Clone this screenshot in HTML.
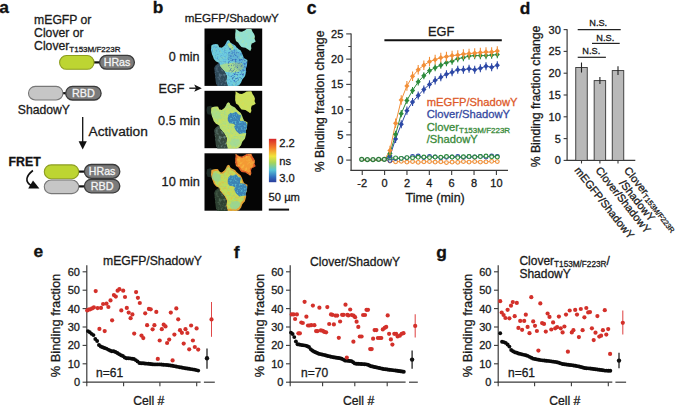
<!DOCTYPE html>
<html><head><meta charset="utf-8"><style>
html,body{margin:0;padding:0;background:#fff;overflow:hidden}
svg{display:block}
text{font-family:"Liberation Sans",sans-serif}
</style></head><body>
<svg width="675" height="405" viewBox="0 0 675 405">
<rect width="675" height="405" fill="#fff"/>
<text x="-0.80" y="13.40" font-size="17.4" text-anchor="start" fill="#111" stroke="#111" stroke-width="0.3" font-weight="bold" >a</text>
<text x="34.10" y="24.30" font-size="12.2" text-anchor="start" fill="#1a1a1a" stroke="#1a1a1a" stroke-width="0.3" >mEGFP or</text>
<text x="34.10" y="37.30" font-size="12.2" text-anchor="start" fill="#1a1a1a" stroke="#1a1a1a" stroke-width="0.3" >Clover or</text>
<text x="34.10" y="50.30" font-size="12.2" text-anchor="start" fill="#1a1a1a" stroke="#1a1a1a" stroke-width="0.3" >Clover<tspan font-size="8" dy="1.4">T153M/F223R</tspan></text>
<line x1="93.50" y1="62.40" x2="100.00" y2="62.40" stroke="#111" stroke-width="2.2"/>
<rect x="59.60" y="55.50" width="34.40" height="13.80" rx="6.90" fill="#bdd532" stroke="#8c9d1e" stroke-width="1.1"/>
<rect x="99.60" y="55.40" width="34.80" height="13.80" rx="6.90" fill="#7b7b7b" stroke="#3a3a3a" stroke-width="1.3"/>
<text x="117.00" y="65.90" font-size="10.6" text-anchor="middle" fill="#f4f4f4" stroke="#f4f4f4" stroke-width="0.3" >HRas</text>
<line x1="62.50" y1="93.20" x2="66.50" y2="93.20" stroke="#111" stroke-width="2.2"/>
<rect x="28.50" y="86.40" width="34.40" height="13.60" rx="6.80" fill="#c6c6c6" stroke="#777" stroke-width="1.1"/>
<rect x="65.70" y="86.40" width="35.40" height="13.60" rx="6.80" fill="#7b7b7b" stroke="#3a3a3a" stroke-width="1.3"/>
<text x="83.40" y="96.80" font-size="10.8" text-anchor="middle" fill="#f4f4f4" stroke="#f4f4f4" stroke-width="0.3" >RBD</text>
<text x="17.80" y="113.90" font-size="12.2" text-anchor="start" fill="#1a1a1a" stroke="#1a1a1a" stroke-width="0.3" >ShadowY</text>
<line x1="82.70" y1="117.00" x2="82.70" y2="143.00" stroke="#111" stroke-width="1.3"/>
<polygon points="78.6,141.2 86.8,141.2 82.7,149.6" fill="#111"/>
<text x="88.50" y="136.40" font-size="13.7" text-anchor="start" fill="#1a1a1a" stroke="#1a1a1a" stroke-width="0.3" >Activation</text>
<text x="8.60" y="165.60" font-size="12.3" text-anchor="start" fill="#111" stroke="#111" stroke-width="0.3" font-weight="bold" >FRET</text>
<path d="M32.9,170.5 C26.5,175.5 24.0,181.5 31.5,185.8" fill="none" stroke="#111" stroke-width="1.6"/>
<polygon points="33.0,180.4 39.4,188.6 28.2,188.6" fill="#111"/>
<line x1="78.50" y1="171.60" x2="84.50" y2="171.60" stroke="#111" stroke-width="2.2"/>
<line x1="78.50" y1="186.40" x2="84.50" y2="186.40" stroke="#111" stroke-width="2.2"/>
<rect x="44.30" y="164.90" width="34.40" height="13.80" rx="6.90" fill="#bdd532" stroke="#8c9d1e" stroke-width="1.1"/>
<rect x="84.40" y="164.50" width="35.40" height="13.80" rx="6.90" fill="#7b7b7b" stroke="#3a3a3a" stroke-width="1.3"/>
<text x="102.10" y="175.20" font-size="10.6" text-anchor="middle" fill="#f4f4f4" stroke="#f4f4f4" stroke-width="0.3" >HRas</text>
<rect x="44.30" y="180.00" width="34.40" height="13.60" rx="6.80" fill="#c6c6c6" stroke="#777" stroke-width="1.1"/>
<rect x="84.40" y="179.40" width="35.40" height="13.40" rx="6.70" fill="#7b7b7b" stroke="#3a3a3a" stroke-width="1.3"/>
<text x="102.10" y="190.00" font-size="10.8" text-anchor="middle" fill="#f4f4f4" stroke="#f4f4f4" stroke-width="0.3" >RBD</text>
<text x="152.80" y="12.90" font-size="17.3" text-anchor="start" fill="#111" stroke="#111" stroke-width="0.3" font-weight="bold" >b</text>
<text x="184.70" y="22.40" font-size="11.6" text-anchor="start" fill="#1a1a1a" stroke="#1a1a1a" stroke-width="0.3" >mEGFP/ShadowY</text>
<text x="199.60" y="61.00" font-size="12.6" text-anchor="end" fill="#1a1a1a" stroke="#1a1a1a" stroke-width="0.3" >0 min</text>
<text x="158.60" y="92.50" font-size="12.6" text-anchor="start" fill="#1a1a1a" stroke="#1a1a1a" stroke-width="0.3" >EGF</text>
<line x1="189.30" y1="88.20" x2="199.50" y2="88.20" stroke="#111" stroke-width="1.3"/>
<polygon points="194.2,84.6 201.8,88.2 194.2,91.8 196.0,88.2" fill="#111"/>
<text x="200.00" y="125.10" font-size="12.8" text-anchor="end" fill="#1a1a1a" stroke="#1a1a1a" stroke-width="0.3" >0.5 min</text>
<text x="200.00" y="186.00" font-size="12.8" text-anchor="end" fill="#1a1a1a" stroke="#1a1a1a" stroke-width="0.3" >10 min</text>
<defs>
<filter id="nz1" x="0" y="0" width="100%" height="100%"><feTurbulence type="fractalNoise" baseFrequency="0.55" numOctaves="2" seed="7" result="n"/><feColorMatrix in="n" type="matrix" values="0 0 0 0 0  0 0 0 0 0  0 0 0 0 0  0 0 0 -3.0 1.55" result="a"/><feComposite in="SourceGraphic" in2="a" operator="in"/></filter>
<filter id="nz2" x="0" y="0" width="100%" height="100%"><feTurbulence type="fractalNoise" baseFrequency="0.35" numOctaves="2" seed="19" result="n"/><feColorMatrix in="n" type="matrix" values="0 0 0 0 0  0 0 0 0 0  0 0 0 0 0  0 0 0 3.4 -1.6" result="a"/><feComposite in="SourceGraphic" in2="a" operator="in"/></filter>
<filter id="blr"><feGaussianBlur stdDeviation="0.45"/></filter>
<clipPath id="urc"><polygon points="31.1,0.4 33.0,1.6 35.0,3.0 37.4,3.2 40.1,2.0 42.1,0.6 46.9,0.4 48.0,3.2 49.6,5.5 50.4,7.9 50.0,10.3 51.2,13.0 49.2,14.2 47.2,15.0 46.5,17.4 46.9,20.1 45.7,22.5 43.7,20.9 40.9,19.3 39.0,18.9 37.0,18.6 35.0,16.2 33.8,14.2 31.5,12.6 30.7,9.5 30.7,5.5 31.1,2.4"/></clipPath>
<clipPath id="mainc"><polygon points="6.9,17.0 8.4,16.1 11.4,15.6 13.6,15.9 14.7,18.8 17.3,19.2 19.9,17.3 21.7,14.4 22.5,12.5 23.9,11.4 25.1,12.2 25.8,14.0 27.3,15.1 29.5,16.2 30.7,17.0 32.2,19.0 34.6,20.9 36.2,22.1 37.4,24.5 38.6,27.6 39.3,29.6 42.9,31.5 42.5,36.7 41.3,40.2 41.7,43.0 40.5,47.7 37.8,50.9 36.6,54.1 34.6,56.8 32.2,57.6 23.2,57.6 21.6,52.5 22.4,47.7 20.0,43.0 15.3,37.5 14.6,34.6 11.3,32.7 9.4,30.4 8.2,27.2 7.6,25.9 6.5,21.4"/></clipPath>
<clipPath id="darkc"><polygon points="10.6,37.5 14.4,34.2 15.3,37.5 20.0,43.0 22.4,47.7 21.6,52.5 23.2,57.6 12.9,57.6 11.3,54.1 10.6,46.9 9.8,39.8"/></clipPath>
<clipPath id="bsc"><polygon points="24.0,18.0 32.0,18.0 38.0,23.0 43.0,30.0 43.0,38.0 42.0,46.0 38.0,52.0 31.0,54.0 26.0,50.0 24.0,42.0 23.0,30.0"/></clipPath>
<clipPath id="bluec"><polygon points="35.7,27.5 35.4,30.4 34.2,31.5 31.1,34.7 28.7,33.0 25.1,32.4 23.4,30.2 23.2,27.5 23.9,24.3 26.0,22.0 28.5,22.5 31.6,21.0 33.6,23.5 36.7,24.8"/><polygon points="44.2,35.8 43.9,39.4 41.6,42.3 38.0,42.5 34.9,43.1 31.7,40.3 30.6,38.5 29.7,35.8 31.8,33.1 32.9,29.3 35.1,30.0 38.6,30.1 41.4,31.2 41.7,32.3"/></clipPath>
</defs>
<g transform="translate(204.5,28.5)">
<rect x="0" y="0" width="57.7" height="57.4" fill="#050505"/>
<g filter="url(#blr)">
<polygon points="2.5,16.0 6.0,15.0 8.5,16.5 8.5,22.0 6.0,24.0 3.0,23.5 2.0,20.0" fill="#050505"/>
<polygon points="31.1,0.4 33.0,1.6 35.0,3.0 37.4,3.2 40.1,2.0 42.1,0.6 46.9,0.4 48.0,3.2 49.6,5.5 50.4,7.9 50.0,10.3 51.2,13.0 49.2,14.2 47.2,15.0 46.5,17.4 46.9,20.1 45.7,22.5 43.7,20.9 40.9,19.3 39.0,18.9 37.0,18.6 35.0,16.2 33.8,14.2 31.5,12.6 30.7,9.5 30.7,5.5 31.1,2.4" fill="#92e0d2"/>
<g clip-path="url(#urc)"><rect width="58" height="58" fill="#c0e890" filter="url(#nz2)" opacity="0.35"/></g>
<polygon points="6.9,17.0 8.4,16.1 11.4,15.6 13.6,15.9 14.7,18.8 17.3,19.2 19.9,17.3 21.7,14.4 22.5,12.5 23.9,11.4 25.1,12.2 25.8,14.0 27.3,15.1 29.5,16.2 30.7,17.0 32.2,19.0 34.6,20.9 36.2,22.1 37.4,24.5 38.6,27.6 39.3,29.6 42.9,31.5 42.5,36.7 41.3,40.2 41.7,43.0 40.5,47.7 37.8,50.9 36.6,54.1 34.6,56.8 32.2,57.6 23.2,57.6 21.6,52.5 22.4,47.7 20.0,43.0 15.3,37.5 14.6,34.6 11.3,32.7 9.4,30.4 8.2,27.2 7.6,25.9 6.5,21.4" fill="#6ccbe0"/>
<g clip-path="url(#mainc)"><rect width="58" height="58" fill="#3f74c4" filter="url(#nz1)" opacity="0.45"/></g>
<g clip-path="url(#mainc)"><rect width="58" height="58" fill="#b8e48a" filter="url(#nz2)" opacity="0.25"/></g>
<g clip-path="url(#mainc)"><polygon points="15.5,36.5 22.0,35.0 30.0,34.0 37.5,34.5 39.5,38.5 36.0,42.5 29.0,44.0 22.0,43.5 17.0,41.5" fill="#b8e07c" opacity="0.75"/></g>
<g clip-path="url(#mainc)"><polygon points="22.8,15.5 25.5,14.0 29.2,18.5 28.5,21.5 26.0,20.5" fill="#c4e474" opacity="0.75"/></g>
<g clip-path="url(#mainc)" opacity="0.25"><polygon points="35.7,27.5 35.4,30.4 34.2,31.5 31.1,34.7 28.7,33.0 25.1,32.4 23.4,30.2 23.2,27.5 23.9,24.3 26.0,22.0 28.5,22.5 31.6,21.0 33.6,23.5 36.7,24.8" fill="#3a70c0"/><polygon points="44.2,35.8 43.9,39.4 41.6,42.3 38.0,42.5 34.9,43.1 31.7,40.3 30.6,38.5 29.7,35.8 31.8,33.1 32.9,29.3 35.1,30.0 38.6,30.1 41.4,31.2 41.7,32.3" fill="#3a70c0"/><g clip-path="url(#bluec)"><rect width="58" height="58" fill="#6cd0e4" filter="url(#nz1)" opacity="0.6"/></g></g>
<g clip-path="url(#mainc)"><g clip-path="url(#bsc)"><rect width="58" height="58" fill="#2d58b4" filter="url(#nz1)" opacity="0.75"/></g></g>
<polygon points="10.6,37.5 14.4,34.2 15.3,37.5 20.0,43.0 22.4,47.7 21.6,52.5 23.2,57.6 12.9,57.6 11.3,54.1 10.6,46.9 9.8,39.8" fill="#2f4858"/>
<g clip-path="url(#darkc)"><rect width="58" height="58" fill="#6a8ca0" filter="url(#nz2)" opacity="0.6"/></g>
</g>
</g>
<g transform="translate(204.5,90.8)">
<rect x="0" y="0" width="57.7" height="57.4" fill="#050505"/>
<g filter="url(#blr)">
<polygon points="2.5,16.0 6.0,15.0 8.5,16.5 8.5,22.0 6.0,24.0 3.0,23.5 2.0,20.0" fill="#1e2a26"/>
<polygon points="31.1,0.4 33.0,1.6 35.0,3.0 37.4,3.2 40.1,2.0 42.1,0.6 46.9,0.4 48.0,3.2 49.6,5.5 50.4,7.9 50.0,10.3 51.2,13.0 49.2,14.2 47.2,15.0 46.5,17.4 46.9,20.1 45.7,22.5 43.7,20.9 40.9,19.3 39.0,18.9 37.0,18.6 35.0,16.2 33.8,14.2 31.5,12.6 30.7,9.5 30.7,5.5 31.1,2.4" fill="#cbe15e"/>
<g clip-path="url(#urc)"><rect width="58" height="58" fill="#e4dc50" filter="url(#nz2)" opacity="0.4"/></g>
<polygon points="6.9,17.0 8.4,16.1 11.4,15.6 13.6,15.9 14.7,18.8 17.3,19.2 19.9,17.3 21.7,14.4 22.5,12.5 23.9,11.4 25.1,12.2 25.8,14.0 27.3,15.1 29.5,16.2 30.7,17.0 32.2,19.0 34.6,20.9 36.2,22.1 37.4,24.5 38.6,27.6 39.3,29.6 42.9,31.5 42.5,36.7 41.3,40.2 41.7,43.0 40.5,47.7 37.8,50.9 36.6,54.1 34.6,56.8 32.2,57.6 23.2,57.6 21.6,52.5 22.4,47.7 20.0,43.0 15.3,37.5 14.6,34.6 11.3,32.7 9.4,30.4 8.2,27.2 7.6,25.9 6.5,21.4" fill="#bde070"/>
<g clip-path="url(#mainc)"><rect width="58" height="58" fill="#8cd8a8" filter="url(#nz1)" opacity="0.6"/></g>
<g clip-path="url(#mainc)"><rect width="58" height="58" fill="#dce052" filter="url(#nz2)" opacity="0.5"/></g>
<g clip-path="url(#mainc)"><polygon points="15.9,24.0 16.4,26.0 14.5,28.1 13.2,28.5 11.0,28.0 9.8,27.4 7.7,25.6 6.8,24.0 8.3,22.4 8.5,20.0 10.8,19.3 12.8,19.9 14.9,21.0 17.0,22.1" fill="#9cdc9c" opacity="0.5"/></g>
<g clip-path="url(#mainc)"><polygon points="36.0,52.0 33.8,54.4 33.0,55.0 31.6,56.2 29.3,56.0 27.1,55.3 26.2,54.4 25.5,52.0 26.0,50.4 27.2,48.3 29.6,48.1 31.7,47.4 33.9,48.0 35.5,49.9" fill="#98d8a8" opacity="0.6"/></g>
<g clip-path="url(#mainc)" opacity="0.92"><polygon points="35.7,27.5 35.4,30.4 34.2,31.5 31.1,34.7 28.7,33.0 25.1,32.4 23.4,30.2 23.2,27.5 23.9,24.3 26.0,22.0 28.5,22.5 31.6,21.0 33.6,23.5 36.7,24.8" fill="#2f78bc"/><polygon points="44.2,35.8 43.9,39.4 41.6,42.3 38.0,42.5 34.9,43.1 31.7,40.3 30.6,38.5 29.7,35.8 31.8,33.1 32.9,29.3 35.1,30.0 38.6,30.1 41.4,31.2 41.7,32.3" fill="#2f78bc"/><g clip-path="url(#bluec)"><rect width="58" height="58" fill="#5cc4dc" filter="url(#nz1)" opacity="0.8"/></g></g>
<polygon points="10.6,37.5 14.4,34.2 15.3,37.5 20.0,43.0 22.4,47.7 21.6,52.5 23.2,57.6 12.9,57.6 11.3,54.1 10.6,46.9 9.8,39.8" fill="#34463e"/>
<g clip-path="url(#darkc)"><rect width="58" height="58" fill="#7c9c94" filter="url(#nz2)" opacity="0.65"/></g>
</g>
</g>
<g transform="translate(204.5,153.3)">
<rect x="0" y="0" width="57.7" height="57.4" fill="#050505"/>
<g filter="url(#blr)">
<polygon points="2.5,16.0 6.0,15.0 8.5,16.5 8.5,22.0 6.0,24.0 3.0,23.5 2.0,20.0" fill="#1e2a26"/>
<polygon points="31.1,0.4 33.0,1.6 35.0,3.0 37.4,3.2 40.1,2.0 42.1,0.6 46.9,0.4 48.0,3.2 49.6,5.5 50.4,7.9 50.0,10.3 51.2,13.0 49.2,14.2 47.2,15.0 46.5,17.4 46.9,20.1 45.7,22.5 43.7,20.9 40.9,19.3 39.0,18.9 37.0,18.6 35.0,16.2 33.8,14.2 31.5,12.6 30.7,9.5 30.7,5.5 31.1,2.4" fill="#e05a28"/>
<polygon points="31.1,0.4 33.0,1.6 35.0,3.0 37.4,3.2 40.1,2.0 42.1,0.6 46.9,0.4 48.0,3.2 49.6,5.5 50.4,7.9 50.0,10.3 51.2,13.0 49.2,14.2 47.2,15.0 46.5,17.4 46.9,20.1 45.7,22.5 43.7,20.9 40.9,19.3 39.0,18.9 37.0,18.6 35.0,16.2 33.8,14.2 31.5,12.6 30.7,9.5 30.7,5.5 31.1,2.4" fill="#f49a34" transform="translate(40.5,11) scale(0.8) translate(-40.5,-11)"/>
<g clip-path="url(#urc)"><rect width="58" height="58" fill="#f8c848" filter="url(#nz2)" opacity="0.6"/></g>
<polygon points="6.9,17.0 8.4,16.1 11.4,15.6 13.6,15.9 14.7,18.8 17.3,19.2 19.9,17.3 21.7,14.4 22.5,12.5 23.9,11.4 25.1,12.2 25.8,14.0 27.3,15.1 29.5,16.2 30.7,17.0 32.2,19.0 34.6,20.9 36.2,22.1 37.4,24.5 38.6,27.6 39.3,29.6 42.9,31.5 42.5,36.7 41.3,40.2 41.7,43.0 40.5,47.7 37.8,50.9 36.6,54.1 34.6,56.8 32.2,57.6 23.2,57.6 21.6,52.5 22.4,47.7 20.0,43.0 15.3,37.5 14.6,34.6 11.3,32.7 9.4,30.4 8.2,27.2 7.6,25.9 6.5,21.4" fill="#e8a030"/>
<polygon points="6.9,17.0 8.4,16.1 11.4,15.6 13.6,15.9 14.7,18.8 17.3,19.2 19.9,17.3 21.7,14.4 22.5,12.5 23.9,11.4 25.1,12.2 25.8,14.0 27.3,15.1 29.5,16.2 30.7,17.0 32.2,19.0 34.6,20.9 36.2,22.1 37.4,24.5 38.6,27.6 39.3,29.6 42.9,31.5 42.5,36.7 41.3,40.2 41.7,43.0 40.5,47.7 37.8,50.9 36.6,54.1 34.6,56.8 32.2,57.6 23.2,57.6 21.6,52.5 22.4,47.7 20.0,43.0 15.3,37.5 14.6,34.6 11.3,32.7 9.4,30.4 8.2,27.2 7.6,25.9 6.5,21.4" fill="#c4dc58" transform="translate(26,35) scale(0.9) translate(-26,-35)"/>
<g clip-path="url(#mainc)"><rect width="58" height="58" fill="#88d49a" filter="url(#nz1)" opacity="0.55"/></g>
<g clip-path="url(#mainc)"><rect width="58" height="58" fill="#f0b040" filter="url(#nz2)" opacity="0.45"/></g>
<g clip-path="url(#mainc)"><polygon points="15.9,24.0 16.4,26.0 14.5,28.1 13.2,28.5 11.0,28.0 9.8,27.4 7.7,25.6 6.8,24.0 8.3,22.4 8.5,20.0 10.8,19.3 12.8,19.9 14.9,21.0 17.0,22.1" fill="#8cd49a" opacity="0.7"/></g>
<g clip-path="url(#mainc)"><polygon points="36.0,52.0 33.8,54.4 33.0,55.0 31.6,56.2 29.3,56.0 27.1,55.3 26.2,54.4 25.5,52.0 26.0,50.4 27.2,48.3 29.6,48.1 31.7,47.4 33.9,48.0 35.5,49.9" fill="#8cd4a4" opacity="0.7"/></g>
<g clip-path="url(#mainc)" opacity="0.92"><polygon points="35.7,27.5 35.4,30.4 34.2,31.5 31.1,34.7 28.7,33.0 25.1,32.4 23.4,30.2 23.2,27.5 23.9,24.3 26.0,22.0 28.5,22.5 31.6,21.0 33.6,23.5 36.7,24.8" fill="#2f7cbc"/><polygon points="44.2,35.8 43.9,39.4 41.6,42.3 38.0,42.5 34.9,43.1 31.7,40.3 30.6,38.5 29.7,35.8 31.8,33.1 32.9,29.3 35.1,30.0 38.6,30.1 41.4,31.2 41.7,32.3" fill="#2f7cbc"/><g clip-path="url(#bluec)"><rect width="58" height="58" fill="#5cc4dc" filter="url(#nz1)" opacity="0.8"/></g></g>
<polygon points="10.6,37.5 14.4,34.2 15.3,37.5 20.0,43.0 22.4,47.7 21.6,52.5 23.2,57.6 12.9,57.6 11.3,54.1 10.6,46.9 9.8,39.8" fill="#2e4030"/>
<g clip-path="url(#darkc)"><rect width="58" height="58" fill="#64806a" filter="url(#nz2)" opacity="0.6"/></g>
</g>
</g>
<defs><linearGradient id="cb" x1="0" y1="0" x2="0" y2="1"><stop offset="0" stop-color="#d7262a"/><stop offset="0.2" stop-color="#f47c2a"/><stop offset="0.4" stop-color="#f2e43a"/><stop offset="0.55" stop-color="#a6d45a"/><stop offset="0.72" stop-color="#58c4d6"/><stop offset="0.88" stop-color="#3170c0"/><stop offset="1" stop-color="#2a3c9c"/></linearGradient></defs>
<rect x="268.9" y="138.8" width="7.4" height="43.4" fill="url(#cb)"/>
<text x="279.20" y="147.30" font-size="11.2" text-anchor="start" fill="#1a1a1a" stroke="#1a1a1a" stroke-width="0.3" >2.2</text>
<text x="279.20" y="164.80" font-size="11.2" text-anchor="start" fill="#1a1a1a" stroke="#1a1a1a" stroke-width="0.3" >ns</text>
<text x="279.20" y="182.20" font-size="11.2" text-anchor="start" fill="#1a1a1a" stroke="#1a1a1a" stroke-width="0.3" >3.0</text>
<text x="268.60" y="201.40" font-size="11.2" text-anchor="start" fill="#1a1a1a" stroke="#1a1a1a" stroke-width="0.3" >50 µm</text>
<rect x="268.8" y="208.6" width="20.3" height="2" fill="#111"/>
<text x="306.80" y="13.60" font-size="17.6" text-anchor="start" fill="#111" stroke="#111" stroke-width="0.3" font-weight="bold" >c</text>
<line x1="351.10" y1="33.40" x2="351.10" y2="170.90" stroke="#3a3a3a" stroke-width="1.2"/>
<line x1="350.50" y1="170.30" x2="508.00" y2="170.30" stroke="#3a3a3a" stroke-width="1.2"/>
<line x1="346.20" y1="160.10" x2="351.10" y2="160.10" stroke="#3a3a3a" stroke-width="1.1"/>
<text x="343.30" y="164.00" font-size="11" text-anchor="end" fill="#1a1a1a" stroke="#1a1a1a" stroke-width="0.3" >0</text>
<line x1="346.20" y1="134.86" x2="351.10" y2="134.86" stroke="#3a3a3a" stroke-width="1.1"/>
<text x="343.30" y="138.76" font-size="11" text-anchor="end" fill="#1a1a1a" stroke="#1a1a1a" stroke-width="0.3" >5</text>
<line x1="346.20" y1="109.62" x2="351.10" y2="109.62" stroke="#3a3a3a" stroke-width="1.1"/>
<text x="343.30" y="113.52" font-size="11" text-anchor="end" fill="#1a1a1a" stroke="#1a1a1a" stroke-width="0.3" >10</text>
<line x1="346.20" y1="84.38" x2="351.10" y2="84.38" stroke="#3a3a3a" stroke-width="1.1"/>
<text x="343.30" y="88.28" font-size="11" text-anchor="end" fill="#1a1a1a" stroke="#1a1a1a" stroke-width="0.3" >15</text>
<line x1="346.20" y1="59.14" x2="351.10" y2="59.14" stroke="#3a3a3a" stroke-width="1.1"/>
<text x="343.30" y="63.04" font-size="11" text-anchor="end" fill="#1a1a1a" stroke="#1a1a1a" stroke-width="0.3" >20</text>
<line x1="346.20" y1="33.90" x2="351.10" y2="33.90" stroke="#3a3a3a" stroke-width="1.1"/>
<text x="343.30" y="37.80" font-size="11" text-anchor="end" fill="#1a1a1a" stroke="#1a1a1a" stroke-width="0.3" >25</text>
<line x1="348.30" y1="147.48" x2="351.10" y2="147.48" stroke="#3a3a3a" stroke-width="1.0"/>
<line x1="348.30" y1="122.24" x2="351.10" y2="122.24" stroke="#3a3a3a" stroke-width="1.0"/>
<line x1="348.30" y1="97.00" x2="351.10" y2="97.00" stroke="#3a3a3a" stroke-width="1.0"/>
<line x1="348.30" y1="71.76" x2="351.10" y2="71.76" stroke="#3a3a3a" stroke-width="1.0"/>
<line x1="348.30" y1="46.52" x2="351.10" y2="46.52" stroke="#3a3a3a" stroke-width="1.0"/>
<line x1="362.24" y1="170.30" x2="362.24" y2="175.00" stroke="#3a3a3a" stroke-width="1.1"/>
<text x="362.24" y="187.00" font-size="11" text-anchor="middle" fill="#1a1a1a" stroke="#1a1a1a" stroke-width="0.3" >-2</text>
<line x1="384.60" y1="170.30" x2="384.60" y2="175.00" stroke="#3a3a3a" stroke-width="1.1"/>
<text x="384.60" y="187.00" font-size="11" text-anchor="middle" fill="#1a1a1a" stroke="#1a1a1a" stroke-width="0.3" >0</text>
<line x1="406.96" y1="170.30" x2="406.96" y2="175.00" stroke="#3a3a3a" stroke-width="1.1"/>
<text x="406.96" y="187.00" font-size="11" text-anchor="middle" fill="#1a1a1a" stroke="#1a1a1a" stroke-width="0.3" >2</text>
<line x1="429.32" y1="170.30" x2="429.32" y2="175.00" stroke="#3a3a3a" stroke-width="1.1"/>
<text x="429.32" y="187.00" font-size="11" text-anchor="middle" fill="#1a1a1a" stroke="#1a1a1a" stroke-width="0.3" >4</text>
<line x1="451.68" y1="170.30" x2="451.68" y2="175.00" stroke="#3a3a3a" stroke-width="1.1"/>
<text x="451.68" y="187.00" font-size="11" text-anchor="middle" fill="#1a1a1a" stroke="#1a1a1a" stroke-width="0.3" >6</text>
<line x1="474.04" y1="170.30" x2="474.04" y2="175.00" stroke="#3a3a3a" stroke-width="1.1"/>
<text x="474.04" y="187.00" font-size="11" text-anchor="middle" fill="#1a1a1a" stroke="#1a1a1a" stroke-width="0.3" >8</text>
<line x1="496.40" y1="170.30" x2="496.40" y2="175.00" stroke="#3a3a3a" stroke-width="1.1"/>
<text x="496.40" y="187.00" font-size="11" text-anchor="middle" fill="#1a1a1a" stroke="#1a1a1a" stroke-width="0.3" >10</text>
<text x="405.50" y="202.00" font-size="12.5" text-anchor="start" fill="#1a1a1a" stroke="#1a1a1a" stroke-width="0.3" >Time (min)</text>
<text transform="translate(323.6,101.4) rotate(-90)" x="0" y="0" font-size="12.2" text-anchor="middle" fill="#1a1a1a" stroke="#1a1a1a" stroke-width="0.3">% Binding fraction change</text>
<line x1="384.40" y1="40.30" x2="501.80" y2="40.30" stroke="#111" stroke-width="2.0"/>
<text x="441.20" y="35.60" font-size="12.8" text-anchor="middle" fill="#1a1a1a" stroke="#1a1a1a" stroke-width="0.3" >EGF</text>
<polyline points="361.70,159.34 367.35,159.60 373.00,159.60 378.65,159.34 384.30,159.34 389.95,161.11 395.60,161.87 401.25,161.36 406.90,162.12 412.55,161.61 418.20,162.37 423.85,161.87 429.50,161.61 435.15,162.12 440.80,161.87 446.45,162.62 452.10,162.12 457.75,162.37 463.40,161.61 469.05,162.12 474.70,161.61 480.35,162.12 486.00,161.87 491.65,161.36 497.30,161.61" fill="none" stroke="#f28f38" stroke-width="1"/>
<polyline points="361.70,159.34 367.35,159.60 373.00,159.60 378.65,159.34 384.30,159.34 389.95,160.60 395.60,158.59 401.25,158.33 406.90,157.83 412.55,156.57 418.20,156.06 423.85,157.58 429.50,156.57 435.15,157.07 440.80,157.83 446.45,157.32 452.10,157.07 457.75,156.57 463.40,157.32 469.05,156.82 474.70,157.07 480.35,156.57 486.00,157.07 491.65,156.06 497.30,156.57" fill="none" stroke="#2d48a6" stroke-width="1"/>
<polyline points="361.70,159.34 367.35,159.60 373.00,159.60 378.65,159.34 384.30,159.34 389.95,158.08 395.60,157.83 401.25,158.33 406.90,157.58 412.55,157.83 418.20,157.32 423.85,157.07 429.50,157.58 435.15,157.07 440.80,157.32 446.45,156.57 452.10,157.07 457.75,157.58 463.40,156.82 469.05,156.57 474.70,157.07 480.35,156.57 486.00,156.06 491.65,156.82 497.30,157.07" fill="none" stroke="#2e8c3c" stroke-width="1"/>
<circle cx="389.95" cy="161.11" r="1.9" fill="#f4f8f2" stroke="#f28f38" stroke-width="1.1"/>
<circle cx="395.60" cy="161.87" r="1.9" fill="#f4f8f2" stroke="#f28f38" stroke-width="1.1"/>
<circle cx="401.25" cy="161.36" r="1.9" fill="#f4f8f2" stroke="#f28f38" stroke-width="1.1"/>
<circle cx="406.90" cy="162.12" r="1.9" fill="#f4f8f2" stroke="#f28f38" stroke-width="1.1"/>
<circle cx="412.55" cy="161.61" r="1.9" fill="#f4f8f2" stroke="#f28f38" stroke-width="1.1"/>
<circle cx="418.20" cy="162.37" r="1.9" fill="#f4f8f2" stroke="#f28f38" stroke-width="1.1"/>
<circle cx="423.85" cy="161.87" r="1.9" fill="#f4f8f2" stroke="#f28f38" stroke-width="1.1"/>
<circle cx="429.50" cy="161.61" r="1.9" fill="#f4f8f2" stroke="#f28f38" stroke-width="1.1"/>
<circle cx="435.15" cy="162.12" r="1.9" fill="#f4f8f2" stroke="#f28f38" stroke-width="1.1"/>
<circle cx="440.80" cy="161.87" r="1.9" fill="#f4f8f2" stroke="#f28f38" stroke-width="1.1"/>
<circle cx="446.45" cy="162.62" r="1.9" fill="#f4f8f2" stroke="#f28f38" stroke-width="1.1"/>
<circle cx="452.10" cy="162.12" r="1.9" fill="#f4f8f2" stroke="#f28f38" stroke-width="1.1"/>
<circle cx="457.75" cy="162.37" r="1.9" fill="#f4f8f2" stroke="#f28f38" stroke-width="1.1"/>
<circle cx="463.40" cy="161.61" r="1.9" fill="#f4f8f2" stroke="#f28f38" stroke-width="1.1"/>
<circle cx="469.05" cy="162.12" r="1.9" fill="#f4f8f2" stroke="#f28f38" stroke-width="1.1"/>
<circle cx="474.70" cy="161.61" r="1.9" fill="#f4f8f2" stroke="#f28f38" stroke-width="1.1"/>
<circle cx="480.35" cy="162.12" r="1.9" fill="#f4f8f2" stroke="#f28f38" stroke-width="1.1"/>
<circle cx="486.00" cy="161.87" r="1.9" fill="#f4f8f2" stroke="#f28f38" stroke-width="1.1"/>
<circle cx="491.65" cy="161.36" r="1.9" fill="#f4f8f2" stroke="#f28f38" stroke-width="1.1"/>
<circle cx="497.30" cy="161.61" r="1.9" fill="#f4f8f2" stroke="#f28f38" stroke-width="1.1"/>
<circle cx="389.95" cy="160.60" r="1.9" fill="#f4f8f2" stroke="#2d48a6" stroke-width="1.1"/>
<circle cx="395.60" cy="158.59" r="1.9" fill="#f4f8f2" stroke="#2d48a6" stroke-width="1.1"/>
<circle cx="401.25" cy="158.33" r="1.9" fill="#f4f8f2" stroke="#2d48a6" stroke-width="1.1"/>
<circle cx="406.90" cy="157.83" r="1.9" fill="#f4f8f2" stroke="#2d48a6" stroke-width="1.1"/>
<circle cx="412.55" cy="156.57" r="1.9" fill="#f4f8f2" stroke="#2d48a6" stroke-width="1.1"/>
<circle cx="418.20" cy="156.06" r="1.9" fill="#f4f8f2" stroke="#2d48a6" stroke-width="1.1"/>
<circle cx="423.85" cy="157.58" r="1.9" fill="#f4f8f2" stroke="#2d48a6" stroke-width="1.1"/>
<circle cx="429.50" cy="156.57" r="1.9" fill="#f4f8f2" stroke="#2d48a6" stroke-width="1.1"/>
<circle cx="435.15" cy="157.07" r="1.9" fill="#f4f8f2" stroke="#2d48a6" stroke-width="1.1"/>
<circle cx="440.80" cy="157.83" r="1.9" fill="#f4f8f2" stroke="#2d48a6" stroke-width="1.1"/>
<circle cx="446.45" cy="157.32" r="1.9" fill="#f4f8f2" stroke="#2d48a6" stroke-width="1.1"/>
<circle cx="452.10" cy="157.07" r="1.9" fill="#f4f8f2" stroke="#2d48a6" stroke-width="1.1"/>
<circle cx="457.75" cy="156.57" r="1.9" fill="#f4f8f2" stroke="#2d48a6" stroke-width="1.1"/>
<circle cx="463.40" cy="157.32" r="1.9" fill="#f4f8f2" stroke="#2d48a6" stroke-width="1.1"/>
<circle cx="469.05" cy="156.82" r="1.9" fill="#f4f8f2" stroke="#2d48a6" stroke-width="1.1"/>
<circle cx="474.70" cy="157.07" r="1.9" fill="#f4f8f2" stroke="#2d48a6" stroke-width="1.1"/>
<circle cx="480.35" cy="156.57" r="1.9" fill="#f4f8f2" stroke="#2d48a6" stroke-width="1.1"/>
<circle cx="486.00" cy="157.07" r="1.9" fill="#f4f8f2" stroke="#2d48a6" stroke-width="1.1"/>
<circle cx="491.65" cy="156.06" r="1.9" fill="#f4f8f2" stroke="#2d48a6" stroke-width="1.1"/>
<circle cx="497.30" cy="156.57" r="1.9" fill="#f4f8f2" stroke="#2d48a6" stroke-width="1.1"/>
<circle cx="389.95" cy="158.08" r="1.9" fill="#f4f8f2" stroke="#2e8c3c" stroke-width="1.1"/>
<circle cx="395.60" cy="157.83" r="1.9" fill="#f4f8f2" stroke="#2e8c3c" stroke-width="1.1"/>
<circle cx="401.25" cy="158.33" r="1.9" fill="#f4f8f2" stroke="#2e8c3c" stroke-width="1.1"/>
<circle cx="406.90" cy="157.58" r="1.9" fill="#f4f8f2" stroke="#2e8c3c" stroke-width="1.1"/>
<circle cx="412.55" cy="157.83" r="1.9" fill="#f4f8f2" stroke="#2e8c3c" stroke-width="1.1"/>
<circle cx="418.20" cy="157.32" r="1.9" fill="#f4f8f2" stroke="#2e8c3c" stroke-width="1.1"/>
<circle cx="423.85" cy="157.07" r="1.9" fill="#f4f8f2" stroke="#2e8c3c" stroke-width="1.1"/>
<circle cx="429.50" cy="157.58" r="1.9" fill="#f4f8f2" stroke="#2e8c3c" stroke-width="1.1"/>
<circle cx="435.15" cy="157.07" r="1.9" fill="#f4f8f2" stroke="#2e8c3c" stroke-width="1.1"/>
<circle cx="440.80" cy="157.32" r="1.9" fill="#f4f8f2" stroke="#2e8c3c" stroke-width="1.1"/>
<circle cx="446.45" cy="156.57" r="1.9" fill="#f4f8f2" stroke="#2e8c3c" stroke-width="1.1"/>
<circle cx="452.10" cy="157.07" r="1.9" fill="#f4f8f2" stroke="#2e8c3c" stroke-width="1.1"/>
<circle cx="457.75" cy="157.58" r="1.9" fill="#f4f8f2" stroke="#2e8c3c" stroke-width="1.1"/>
<circle cx="463.40" cy="156.82" r="1.9" fill="#f4f8f2" stroke="#2e8c3c" stroke-width="1.1"/>
<circle cx="469.05" cy="156.57" r="1.9" fill="#f4f8f2" stroke="#2e8c3c" stroke-width="1.1"/>
<circle cx="474.70" cy="157.07" r="1.9" fill="#f4f8f2" stroke="#2e8c3c" stroke-width="1.1"/>
<circle cx="480.35" cy="156.57" r="1.9" fill="#f4f8f2" stroke="#2e8c3c" stroke-width="1.1"/>
<circle cx="486.00" cy="156.06" r="1.9" fill="#f4f8f2" stroke="#2e8c3c" stroke-width="1.1"/>
<circle cx="491.65" cy="156.82" r="1.9" fill="#f4f8f2" stroke="#2e8c3c" stroke-width="1.1"/>
<circle cx="497.30" cy="157.07" r="1.9" fill="#f4f8f2" stroke="#2e8c3c" stroke-width="1.1"/>
<polyline points="361.70,160.10 367.35,160.10 373.00,160.10 378.65,160.10 384.30,160.10 389.95,156.06 395.60,138.90 401.25,124.26 406.90,110.63 412.55,102.05 418.20,95.49 423.85,89.43 429.50,84.38 435.15,80.34 440.80,77.31 446.45,74.28 452.10,72.26 457.75,69.74 463.40,69.74 469.05,68.73 474.70,69.74 480.35,68.23 486.00,66.21 491.65,67.22 497.30,65.20" fill="none" stroke="#2d48a6" stroke-width="1"/>
<polyline points="361.70,160.10 367.35,160.10 373.00,160.10 378.65,160.10 384.30,160.10 389.95,153.54 395.60,134.36 401.25,113.66 406.90,100.53 412.55,90.44 418.20,81.86 423.85,75.80 429.50,70.75 435.15,67.72 440.80,65.20 446.45,62.67 452.10,61.16 457.75,58.64 463.40,57.63 469.05,56.11 474.70,55.61 480.35,55.61 486.00,55.61 491.65,55.10 497.30,54.60" fill="none" stroke="#2e8c3c" stroke-width="1"/>
<polyline points="361.70,160.10 367.35,160.10 373.00,160.10 378.65,160.10 384.30,160.10 389.95,150.51 395.60,123.25 401.25,100.03 406.90,85.89 412.55,76.30 418.20,69.74 423.85,65.20 429.50,61.66 435.15,59.64 440.80,57.63 446.45,56.62 452.10,55.61 457.75,55.10 463.40,54.09 469.05,53.59 474.70,53.08 480.35,52.58 486.00,52.07 491.65,52.07 497.30,51.06" fill="none" stroke="#f28f38" stroke-width="1"/>
<circle cx="361.70" cy="159.34" r="2.0" fill="#d9e8d6" stroke="#2e7a3c" stroke-width="1.2"/>
<circle cx="367.35" cy="159.60" r="2.0" fill="#d9e8d6" stroke="#2e7a3c" stroke-width="1.2"/>
<circle cx="373.00" cy="159.60" r="2.0" fill="#d9e8d6" stroke="#2e7a3c" stroke-width="1.2"/>
<circle cx="378.65" cy="159.34" r="2.0" fill="#d9e8d6" stroke="#2e7a3c" stroke-width="1.2"/>
<circle cx="384.30" cy="159.34" r="2.0" fill="#d9e8d6" stroke="#2e7a3c" stroke-width="1.2"/>
<line x1="389.95" y1="152.02" x2="389.95" y2="160.10" stroke="#2d48a6" stroke-width="1.1"/>
<polygon points="389.95,153.36 392.55,156.06 389.95,158.76 387.35,156.06" fill="#2d48a6"/>
<line x1="395.60" y1="134.86" x2="395.60" y2="142.94" stroke="#2d48a6" stroke-width="1.1"/>
<polygon points="395.60,136.20 398.20,138.90 395.60,141.60 393.00,138.90" fill="#2d48a6"/>
<line x1="401.25" y1="120.22" x2="401.25" y2="128.30" stroke="#2d48a6" stroke-width="1.1"/>
<polygon points="401.25,121.56 403.85,124.26 401.25,126.96 398.65,124.26" fill="#2d48a6"/>
<line x1="406.90" y1="106.59" x2="406.90" y2="114.67" stroke="#2d48a6" stroke-width="1.1"/>
<polygon points="406.90,107.93 409.50,110.63 406.90,113.33 404.30,110.63" fill="#2d48a6"/>
<line x1="412.55" y1="98.01" x2="412.55" y2="106.09" stroke="#2d48a6" stroke-width="1.1"/>
<polygon points="412.55,99.35 415.15,102.05 412.55,104.75 409.95,102.05" fill="#2d48a6"/>
<line x1="418.20" y1="91.45" x2="418.20" y2="99.52" stroke="#2d48a6" stroke-width="1.1"/>
<polygon points="418.20,92.79 420.80,95.49 418.20,98.19 415.60,95.49" fill="#2d48a6"/>
<line x1="423.85" y1="85.39" x2="423.85" y2="93.47" stroke="#2d48a6" stroke-width="1.1"/>
<polygon points="423.85,86.73 426.45,89.43 423.85,92.13 421.25,89.43" fill="#2d48a6"/>
<line x1="429.50" y1="80.34" x2="429.50" y2="88.42" stroke="#2d48a6" stroke-width="1.1"/>
<polygon points="429.50,81.68 432.10,84.38 429.50,87.08 426.90,84.38" fill="#2d48a6"/>
<line x1="435.15" y1="76.30" x2="435.15" y2="84.38" stroke="#2d48a6" stroke-width="1.1"/>
<polygon points="435.15,77.64 437.75,80.34 435.15,83.04 432.55,80.34" fill="#2d48a6"/>
<line x1="440.80" y1="73.27" x2="440.80" y2="81.35" stroke="#2d48a6" stroke-width="1.1"/>
<polygon points="440.80,74.61 443.40,77.31 440.80,80.01 438.20,77.31" fill="#2d48a6"/>
<line x1="446.45" y1="70.25" x2="446.45" y2="78.32" stroke="#2d48a6" stroke-width="1.1"/>
<polygon points="446.45,71.58 449.05,74.28 446.45,76.98 443.85,74.28" fill="#2d48a6"/>
<line x1="452.10" y1="68.23" x2="452.10" y2="76.30" stroke="#2d48a6" stroke-width="1.1"/>
<polygon points="452.10,69.56 454.70,72.26 452.10,74.96 449.50,72.26" fill="#2d48a6"/>
<line x1="457.75" y1="65.70" x2="457.75" y2="73.78" stroke="#2d48a6" stroke-width="1.1"/>
<polygon points="457.75,67.04 460.35,69.74 457.75,72.44 455.15,69.74" fill="#2d48a6"/>
<line x1="463.40" y1="65.70" x2="463.40" y2="73.78" stroke="#2d48a6" stroke-width="1.1"/>
<polygon points="463.40,67.04 466.00,69.74 463.40,72.44 460.80,69.74" fill="#2d48a6"/>
<line x1="469.05" y1="64.69" x2="469.05" y2="72.77" stroke="#2d48a6" stroke-width="1.1"/>
<polygon points="469.05,66.03 471.65,68.73 469.05,71.43 466.45,68.73" fill="#2d48a6"/>
<line x1="474.70" y1="65.70" x2="474.70" y2="73.78" stroke="#2d48a6" stroke-width="1.1"/>
<polygon points="474.70,67.04 477.30,69.74 474.70,72.44 472.10,69.74" fill="#2d48a6"/>
<line x1="480.35" y1="64.19" x2="480.35" y2="72.26" stroke="#2d48a6" stroke-width="1.1"/>
<polygon points="480.35,65.53 482.95,68.23 480.35,70.93 477.75,68.23" fill="#2d48a6"/>
<line x1="486.00" y1="62.17" x2="486.00" y2="70.25" stroke="#2d48a6" stroke-width="1.1"/>
<polygon points="486.00,63.51 488.60,66.21 486.00,68.91 483.40,66.21" fill="#2d48a6"/>
<line x1="491.65" y1="63.18" x2="491.65" y2="71.26" stroke="#2d48a6" stroke-width="1.1"/>
<polygon points="491.65,64.52 494.25,67.22 491.65,69.92 489.05,67.22" fill="#2d48a6"/>
<line x1="497.30" y1="61.16" x2="497.30" y2="69.24" stroke="#2d48a6" stroke-width="1.1"/>
<polygon points="497.30,62.50 499.90,65.20 497.30,67.90 494.70,65.20" fill="#2d48a6"/>
<line x1="389.95" y1="150.00" x2="389.95" y2="157.07" stroke="#2e8c3c" stroke-width="1.1"/>
<polygon points="389.95,150.84 392.55,153.54 389.95,156.24 387.35,153.54" fill="#2e8c3c"/>
<line x1="395.60" y1="130.82" x2="395.60" y2="137.89" stroke="#2e8c3c" stroke-width="1.1"/>
<polygon points="395.60,131.66 398.20,134.36 395.60,137.06 393.00,134.36" fill="#2e8c3c"/>
<line x1="401.25" y1="110.12" x2="401.25" y2="117.19" stroke="#2e8c3c" stroke-width="1.1"/>
<polygon points="401.25,110.96 403.85,113.66 401.25,116.36 398.65,113.66" fill="#2e8c3c"/>
<line x1="406.90" y1="97.00" x2="406.90" y2="104.07" stroke="#2e8c3c" stroke-width="1.1"/>
<polygon points="406.90,97.83 409.50,100.53 406.90,103.23 404.30,100.53" fill="#2e8c3c"/>
<line x1="412.55" y1="86.90" x2="412.55" y2="93.97" stroke="#2e8c3c" stroke-width="1.1"/>
<polygon points="412.55,87.74 415.15,90.44 412.55,93.14 409.95,90.44" fill="#2e8c3c"/>
<line x1="418.20" y1="78.32" x2="418.20" y2="85.39" stroke="#2e8c3c" stroke-width="1.1"/>
<polygon points="418.20,79.16 420.80,81.86 418.20,84.56 415.60,81.86" fill="#2e8c3c"/>
<line x1="423.85" y1="72.26" x2="423.85" y2="79.33" stroke="#2e8c3c" stroke-width="1.1"/>
<polygon points="423.85,73.10 426.45,75.80 423.85,78.50 421.25,75.80" fill="#2e8c3c"/>
<line x1="429.50" y1="67.22" x2="429.50" y2="74.28" stroke="#2e8c3c" stroke-width="1.1"/>
<polygon points="429.50,68.05 432.10,70.75 429.50,73.45 426.90,70.75" fill="#2e8c3c"/>
<line x1="435.15" y1="64.19" x2="435.15" y2="71.26" stroke="#2e8c3c" stroke-width="1.1"/>
<polygon points="435.15,65.02 437.75,67.72 435.15,70.42 432.55,67.72" fill="#2e8c3c"/>
<line x1="440.80" y1="61.66" x2="440.80" y2="68.73" stroke="#2e8c3c" stroke-width="1.1"/>
<polygon points="440.80,62.50 443.40,65.20 440.80,67.90 438.20,65.20" fill="#2e8c3c"/>
<line x1="446.45" y1="59.14" x2="446.45" y2="66.21" stroke="#2e8c3c" stroke-width="1.1"/>
<polygon points="446.45,59.97 449.05,62.67 446.45,65.37 443.85,62.67" fill="#2e8c3c"/>
<line x1="452.10" y1="57.63" x2="452.10" y2="64.69" stroke="#2e8c3c" stroke-width="1.1"/>
<polygon points="452.10,58.46 454.70,61.16 452.10,63.86 449.50,61.16" fill="#2e8c3c"/>
<line x1="457.75" y1="55.10" x2="457.75" y2="62.17" stroke="#2e8c3c" stroke-width="1.1"/>
<polygon points="457.75,55.94 460.35,58.64 457.75,61.34 455.15,58.64" fill="#2e8c3c"/>
<line x1="463.40" y1="54.09" x2="463.40" y2="61.16" stroke="#2e8c3c" stroke-width="1.1"/>
<polygon points="463.40,54.93 466.00,57.63 463.40,60.33 460.80,57.63" fill="#2e8c3c"/>
<line x1="469.05" y1="52.58" x2="469.05" y2="59.64" stroke="#2e8c3c" stroke-width="1.1"/>
<polygon points="469.05,53.41 471.65,56.11 469.05,58.81 466.45,56.11" fill="#2e8c3c"/>
<line x1="474.70" y1="52.07" x2="474.70" y2="59.14" stroke="#2e8c3c" stroke-width="1.1"/>
<polygon points="474.70,52.91 477.30,55.61 474.70,58.31 472.10,55.61" fill="#2e8c3c"/>
<line x1="480.35" y1="52.07" x2="480.35" y2="59.14" stroke="#2e8c3c" stroke-width="1.1"/>
<polygon points="480.35,52.91 482.95,55.61 480.35,58.31 477.75,55.61" fill="#2e8c3c"/>
<line x1="486.00" y1="52.07" x2="486.00" y2="59.14" stroke="#2e8c3c" stroke-width="1.1"/>
<polygon points="486.00,52.91 488.60,55.61 486.00,58.31 483.40,55.61" fill="#2e8c3c"/>
<line x1="491.65" y1="51.57" x2="491.65" y2="58.64" stroke="#2e8c3c" stroke-width="1.1"/>
<polygon points="491.65,52.40 494.25,55.10 491.65,57.80 489.05,55.10" fill="#2e8c3c"/>
<line x1="497.30" y1="51.06" x2="497.30" y2="58.13" stroke="#2e8c3c" stroke-width="1.1"/>
<polygon points="497.30,51.90 499.90,54.60 497.30,57.30 494.70,54.60" fill="#2e8c3c"/>
<line x1="389.95" y1="145.71" x2="389.95" y2="155.30" stroke="#f28f38" stroke-width="1.1"/>
<polygon points="389.95,147.81 392.55,150.51 389.95,153.21 387.35,150.51" fill="#f28f38"/>
<line x1="395.60" y1="118.45" x2="395.60" y2="128.05" stroke="#f28f38" stroke-width="1.1"/>
<polygon points="395.60,120.55 398.20,123.25 395.60,125.95 393.00,123.25" fill="#f28f38"/>
<line x1="401.25" y1="95.23" x2="401.25" y2="104.82" stroke="#f28f38" stroke-width="1.1"/>
<polygon points="401.25,97.33 403.85,100.03 401.25,102.73 398.65,100.03" fill="#f28f38"/>
<line x1="406.90" y1="81.10" x2="406.90" y2="90.69" stroke="#f28f38" stroke-width="1.1"/>
<polygon points="406.90,83.19 409.50,85.89 406.90,88.59 404.30,85.89" fill="#f28f38"/>
<line x1="412.55" y1="71.51" x2="412.55" y2="81.10" stroke="#f28f38" stroke-width="1.1"/>
<polygon points="412.55,73.60 415.15,76.30 412.55,79.00 409.95,76.30" fill="#f28f38"/>
<line x1="418.20" y1="64.95" x2="418.20" y2="74.54" stroke="#f28f38" stroke-width="1.1"/>
<polygon points="418.20,67.04 420.80,69.74 418.20,72.44 415.60,69.74" fill="#f28f38"/>
<line x1="423.85" y1="60.40" x2="423.85" y2="69.99" stroke="#f28f38" stroke-width="1.1"/>
<polygon points="423.85,62.50 426.45,65.20 423.85,67.90 421.25,65.20" fill="#f28f38"/>
<line x1="429.50" y1="56.87" x2="429.50" y2="66.46" stroke="#f28f38" stroke-width="1.1"/>
<polygon points="429.50,58.96 432.10,61.66 429.50,64.36 426.90,61.66" fill="#f28f38"/>
<line x1="435.15" y1="54.85" x2="435.15" y2="64.44" stroke="#f28f38" stroke-width="1.1"/>
<polygon points="435.15,56.94 437.75,59.64 435.15,62.34 432.55,59.64" fill="#f28f38"/>
<line x1="440.80" y1="52.83" x2="440.80" y2="62.42" stroke="#f28f38" stroke-width="1.1"/>
<polygon points="440.80,54.93 443.40,57.63 440.80,60.33 438.20,57.63" fill="#f28f38"/>
<line x1="446.45" y1="51.82" x2="446.45" y2="61.41" stroke="#f28f38" stroke-width="1.1"/>
<polygon points="446.45,53.92 449.05,56.62 446.45,59.32 443.85,56.62" fill="#f28f38"/>
<line x1="452.10" y1="50.81" x2="452.10" y2="60.40" stroke="#f28f38" stroke-width="1.1"/>
<polygon points="452.10,52.91 454.70,55.61 452.10,58.31 449.50,55.61" fill="#f28f38"/>
<line x1="457.75" y1="50.31" x2="457.75" y2="59.90" stroke="#f28f38" stroke-width="1.1"/>
<polygon points="457.75,52.40 460.35,55.10 457.75,57.80 455.15,55.10" fill="#f28f38"/>
<line x1="463.40" y1="49.30" x2="463.40" y2="58.89" stroke="#f28f38" stroke-width="1.1"/>
<polygon points="463.40,51.39 466.00,54.09 463.40,56.79 460.80,54.09" fill="#f28f38"/>
<line x1="469.05" y1="48.79" x2="469.05" y2="58.38" stroke="#f28f38" stroke-width="1.1"/>
<polygon points="469.05,50.89 471.65,53.59 469.05,56.29 466.45,53.59" fill="#f28f38"/>
<line x1="474.70" y1="48.29" x2="474.70" y2="57.88" stroke="#f28f38" stroke-width="1.1"/>
<polygon points="474.70,50.38 477.30,53.08 474.70,55.78 472.10,53.08" fill="#f28f38"/>
<line x1="480.35" y1="47.78" x2="480.35" y2="57.37" stroke="#f28f38" stroke-width="1.1"/>
<polygon points="480.35,49.88 482.95,52.58 480.35,55.28 477.75,52.58" fill="#f28f38"/>
<line x1="486.00" y1="47.28" x2="486.00" y2="56.87" stroke="#f28f38" stroke-width="1.1"/>
<polygon points="486.00,49.37 488.60,52.07 486.00,54.77 483.40,52.07" fill="#f28f38"/>
<line x1="491.65" y1="47.28" x2="491.65" y2="56.87" stroke="#f28f38" stroke-width="1.1"/>
<polygon points="491.65,49.37 494.25,52.07 491.65,54.77 489.05,52.07" fill="#f28f38"/>
<line x1="497.30" y1="46.27" x2="497.30" y2="55.86" stroke="#f28f38" stroke-width="1.1"/>
<polygon points="497.30,48.36 499.90,51.06 497.30,53.76 494.70,51.06" fill="#f28f38"/>
<text x="426.70" y="105.60" font-size="11.2" text-anchor="start" fill="#dd5a2a" stroke="#dd5a2a" stroke-width="0.3" >mEGFP/ShadowY</text>
<text x="426.70" y="118.10" font-size="11.2" text-anchor="start" fill="#3448a0" stroke="#3448a0" stroke-width="0.3" >Clover/ShadowY</text>
<text x="426.70" y="131.40" font-size="11.2" text-anchor="start" fill="#3a8a3a" stroke="#3a8a3a" stroke-width="0.3" >Clover<tspan font-size="8" dy="2">T153M/F223R</tspan></text>
<text x="426.70" y="143.00" font-size="11.2" text-anchor="start" fill="#3a8a3a" stroke="#3a8a3a" stroke-width="0.3" >/ShadowY</text>
<text x="519.80" y="13.50" font-size="17.3" text-anchor="start" fill="#111" stroke="#111" stroke-width="0.3" font-weight="bold" >d</text>
<line x1="567.10" y1="29.20" x2="567.10" y2="161.00" stroke="#3a3a3a" stroke-width="1.2"/>
<line x1="566.50" y1="160.40" x2="635.30" y2="160.40" stroke="#3a3a3a" stroke-width="1.2"/>
<line x1="563.60" y1="160.40" x2="567.10" y2="160.40" stroke="#3a3a3a" stroke-width="1.1"/>
<text x="560.80" y="164.30" font-size="11" text-anchor="end" fill="#1a1a1a" stroke="#1a1a1a" stroke-width="0.3" >0</text>
<line x1="563.60" y1="138.60" x2="567.10" y2="138.60" stroke="#3a3a3a" stroke-width="1.1"/>
<text x="560.80" y="142.50" font-size="11" text-anchor="end" fill="#1a1a1a" stroke="#1a1a1a" stroke-width="0.3" >5</text>
<line x1="563.60" y1="116.80" x2="567.10" y2="116.80" stroke="#3a3a3a" stroke-width="1.1"/>
<text x="560.80" y="120.70" font-size="11" text-anchor="end" fill="#1a1a1a" stroke="#1a1a1a" stroke-width="0.3" >10</text>
<line x1="563.60" y1="95.00" x2="567.10" y2="95.00" stroke="#3a3a3a" stroke-width="1.1"/>
<text x="560.80" y="98.90" font-size="11" text-anchor="end" fill="#1a1a1a" stroke="#1a1a1a" stroke-width="0.3" >15</text>
<line x1="563.60" y1="73.20" x2="567.10" y2="73.20" stroke="#3a3a3a" stroke-width="1.1"/>
<text x="560.80" y="77.10" font-size="11" text-anchor="end" fill="#1a1a1a" stroke="#1a1a1a" stroke-width="0.3" >20</text>
<line x1="563.60" y1="51.40" x2="567.10" y2="51.40" stroke="#3a3a3a" stroke-width="1.1"/>
<text x="560.80" y="55.30" font-size="11" text-anchor="end" fill="#1a1a1a" stroke="#1a1a1a" stroke-width="0.3" >25</text>
<line x1="563.60" y1="29.60" x2="567.10" y2="29.60" stroke="#3a3a3a" stroke-width="1.1"/>
<text x="560.80" y="33.50" font-size="11" text-anchor="end" fill="#1a1a1a" stroke="#1a1a1a" stroke-width="0.3" >30</text>
<rect x="575.75" y="67.53" width="11.5" height="92.87" fill="#b9b9b9" stroke="#333" stroke-width="0.9"/>
<line x1="581.50" y1="62.52" x2="581.50" y2="72.55" stroke="#222" stroke-width="1.1"/>
<line x1="581.50" y1="160.40" x2="581.50" y2="163.50" stroke="#3a3a3a" stroke-width="1.1"/>
<rect x="594.15" y="80.61" width="11.5" height="79.79" fill="#b9b9b9" stroke="#333" stroke-width="0.9"/>
<line x1="599.90" y1="77.12" x2="599.90" y2="84.10" stroke="#222" stroke-width="1.1"/>
<line x1="599.90" y1="160.40" x2="599.90" y2="163.50" stroke="#3a3a3a" stroke-width="1.1"/>
<rect x="612.25" y="70.58" width="11.5" height="89.82" fill="#b9b9b9" stroke="#333" stroke-width="0.9"/>
<line x1="618.00" y1="66.22" x2="618.00" y2="74.94" stroke="#222" stroke-width="1.1"/>
<line x1="618.00" y1="160.40" x2="618.00" y2="163.50" stroke="#3a3a3a" stroke-width="1.1"/>
<line x1="577.70" y1="29.60" x2="620.70" y2="29.60" stroke="#222" stroke-width="1.2"/>
<text x="598.20" y="26.20" font-size="9.2" text-anchor="middle" fill="#1a1a1a" stroke="#1a1a1a" stroke-width="0.3" >N.S.</text>
<line x1="592.00" y1="43.40" x2="619.70" y2="43.40" stroke="#222" stroke-width="1.2"/>
<text x="605.30" y="40.50" font-size="9.2" text-anchor="middle" fill="#1a1a1a" stroke="#1a1a1a" stroke-width="0.3" >N.S.</text>
<line x1="577.70" y1="57.30" x2="605.90" y2="57.30" stroke="#222" stroke-width="1.2"/>
<text x="591.30" y="54.30" font-size="9.2" text-anchor="middle" fill="#1a1a1a" stroke="#1a1a1a" stroke-width="0.3" >N.S.</text>
<text transform="translate(540.2,96.5) rotate(-90)" x="0" y="0" font-size="12.2" text-anchor="middle" fill="#1a1a1a" stroke="#1a1a1a" stroke-width="0.3">% Binding fraction change</text>
<text transform="translate(574.0,170.6) rotate(51.5)" font-size="10.9" fill="#1a1a1a" stroke="#1a1a1a" stroke-width="0.3">mEGFP/ShadowY</text>
<text transform="translate(595.0,170.6) rotate(51.5)" font-size="10.9" fill="#1a1a1a" stroke="#1a1a1a" stroke-width="0.3">Clover/ShadowY</text>
<text transform="translate(623.6,170.6) rotate(51.5)" font-size="10.9" fill="#1a1a1a" stroke="#1a1a1a" stroke-width="0.3">Clover<tspan font-size="7.4" dy="1.8">T153M/F223R</tspan></text>
<text transform="translate(618.8,183.4) rotate(51.5)" font-size="10.9" fill="#1a1a1a" stroke="#1a1a1a" stroke-width="0.3">/ShadowY</text>
<text x="33.60" y="257.40" font-size="17.4" text-anchor="start" fill="#111" stroke="#111" stroke-width="0.3" font-weight="bold" >e</text>
<line x1="86.80" y1="265.30" x2="86.80" y2="382.80" stroke="#3a3a3a" stroke-width="1.2"/>
<line x1="86.20" y1="382.20" x2="200.60" y2="382.20" stroke="#3a3a3a" stroke-width="1.2"/>
<line x1="203.90" y1="382.20" x2="214.80" y2="382.20" stroke="#3a3a3a" stroke-width="1.2"/>
<line x1="82.60" y1="382.20" x2="86.80" y2="382.20" stroke="#3a3a3a" stroke-width="1.1"/>
<text x="80.00" y="386.10" font-size="11" text-anchor="end" fill="#1a1a1a" stroke="#1a1a1a" stroke-width="0.3" >0</text>
<line x1="82.60" y1="363.80" x2="86.80" y2="363.80" stroke="#3a3a3a" stroke-width="1.1"/>
<text x="80.00" y="367.70" font-size="11" text-anchor="end" fill="#1a1a1a" stroke="#1a1a1a" stroke-width="0.3" >10</text>
<line x1="82.60" y1="345.40" x2="86.80" y2="345.40" stroke="#3a3a3a" stroke-width="1.1"/>
<text x="80.00" y="349.30" font-size="11" text-anchor="end" fill="#1a1a1a" stroke="#1a1a1a" stroke-width="0.3" >20</text>
<line x1="82.60" y1="327.00" x2="86.80" y2="327.00" stroke="#3a3a3a" stroke-width="1.1"/>
<text x="80.00" y="330.90" font-size="11" text-anchor="end" fill="#1a1a1a" stroke="#1a1a1a" stroke-width="0.3" >30</text>
<line x1="82.60" y1="308.60" x2="86.80" y2="308.60" stroke="#3a3a3a" stroke-width="1.1"/>
<text x="80.00" y="312.50" font-size="11" text-anchor="end" fill="#1a1a1a" stroke="#1a1a1a" stroke-width="0.3" >40</text>
<line x1="82.60" y1="290.20" x2="86.80" y2="290.20" stroke="#3a3a3a" stroke-width="1.1"/>
<text x="80.00" y="294.10" font-size="11" text-anchor="end" fill="#1a1a1a" stroke="#1a1a1a" stroke-width="0.3" >50</text>
<line x1="82.60" y1="271.80" x2="86.80" y2="271.80" stroke="#3a3a3a" stroke-width="1.1"/>
<text x="80.00" y="275.70" font-size="11" text-anchor="end" fill="#1a1a1a" stroke="#1a1a1a" stroke-width="0.3" >60</text>
<line x1="86.80" y1="382.20" x2="86.80" y2="386.20" stroke="#3a3a3a" stroke-width="1.1"/>
<line x1="123.60" y1="382.20" x2="123.60" y2="386.20" stroke="#3a3a3a" stroke-width="1.1"/>
<line x1="159.90" y1="382.20" x2="159.90" y2="386.20" stroke="#3a3a3a" stroke-width="1.1"/>
<line x1="196.70" y1="382.20" x2="196.70" y2="386.20" stroke="#3a3a3a" stroke-width="1.1"/>
<text x="103.0" y="265.2" font-size="12.2" fill="#1a1a1a" stroke="#1a1a1a" stroke-width="0.3">mEGFP/ShadowY</text>
<text transform="translate(60.3,325.5) rotate(-90)" x="0" y="0" font-size="12.85" text-anchor="middle" fill="#1a1a1a" stroke="#1a1a1a" stroke-width="0.3">% Binding fraction</text>
<text x="133.20" y="404.90" font-size="12.2" text-anchor="start" fill="#1a1a1a" stroke="#1a1a1a" stroke-width="0.3" >Cell #</text>
<circle cx="87.95" cy="331.10" r="1.95" fill="#0a0a0a"/>
<circle cx="89.79" cy="332.32" r="1.95" fill="#0a0a0a"/>
<circle cx="91.62" cy="333.87" r="1.95" fill="#0a0a0a"/>
<circle cx="93.46" cy="335.12" r="1.95" fill="#0a0a0a"/>
<circle cx="95.30" cy="339.04" r="1.95" fill="#0a0a0a"/>
<circle cx="97.14" cy="340.97" r="1.95" fill="#0a0a0a"/>
<circle cx="98.97" cy="344.97" r="1.95" fill="#0a0a0a"/>
<circle cx="100.81" cy="346.50" r="1.95" fill="#0a0a0a"/>
<circle cx="102.65" cy="347.25" r="1.95" fill="#0a0a0a"/>
<circle cx="104.49" cy="347.99" r="1.95" fill="#0a0a0a"/>
<circle cx="106.33" cy="348.58" r="1.95" fill="#0a0a0a"/>
<circle cx="108.16" cy="349.58" r="1.95" fill="#0a0a0a"/>
<circle cx="110.00" cy="350.52" r="1.95" fill="#0a0a0a"/>
<circle cx="111.84" cy="351.20" r="1.95" fill="#0a0a0a"/>
<circle cx="113.67" cy="351.20" r="1.95" fill="#0a0a0a"/>
<circle cx="115.51" cy="351.93" r="1.95" fill="#0a0a0a"/>
<circle cx="117.35" cy="352.98" r="1.95" fill="#0a0a0a"/>
<circle cx="119.19" cy="354.15" r="1.95" fill="#0a0a0a"/>
<circle cx="121.03" cy="355.30" r="1.95" fill="#0a0a0a"/>
<circle cx="122.86" cy="356.05" r="1.95" fill="#0a0a0a"/>
<circle cx="124.70" cy="357.54" r="1.95" fill="#0a0a0a"/>
<circle cx="126.54" cy="358.30" r="1.95" fill="#0a0a0a"/>
<circle cx="128.38" cy="358.30" r="1.95" fill="#0a0a0a"/>
<circle cx="130.21" cy="358.41" r="1.95" fill="#0a0a0a"/>
<circle cx="132.05" cy="358.74" r="1.95" fill="#0a0a0a"/>
<circle cx="133.89" cy="359.06" r="1.95" fill="#0a0a0a"/>
<circle cx="135.72" cy="360.11" r="1.95" fill="#0a0a0a"/>
<circle cx="137.56" cy="361.38" r="1.95" fill="#0a0a0a"/>
<circle cx="139.40" cy="362.93" r="1.95" fill="#0a0a0a"/>
<circle cx="141.24" cy="363.20" r="1.95" fill="#0a0a0a"/>
<circle cx="143.07" cy="363.32" r="1.95" fill="#0a0a0a"/>
<circle cx="144.91" cy="363.45" r="1.95" fill="#0a0a0a"/>
<circle cx="146.75" cy="363.63" r="1.95" fill="#0a0a0a"/>
<circle cx="148.59" cy="363.80" r="1.95" fill="#0a0a0a"/>
<circle cx="150.43" cy="363.99" r="1.95" fill="#0a0a0a"/>
<circle cx="152.26" cy="364.20" r="1.95" fill="#0a0a0a"/>
<circle cx="154.10" cy="364.40" r="1.95" fill="#0a0a0a"/>
<circle cx="155.94" cy="364.40" r="1.95" fill="#0a0a0a"/>
<circle cx="157.77" cy="364.40" r="1.95" fill="#0a0a0a"/>
<circle cx="159.61" cy="364.40" r="1.95" fill="#0a0a0a"/>
<circle cx="161.45" cy="364.53" r="1.95" fill="#0a0a0a"/>
<circle cx="163.29" cy="364.70" r="1.95" fill="#0a0a0a"/>
<circle cx="165.12" cy="364.86" r="1.95" fill="#0a0a0a"/>
<circle cx="166.96" cy="365.03" r="1.95" fill="#0a0a0a"/>
<circle cx="168.80" cy="365.19" r="1.95" fill="#0a0a0a"/>
<circle cx="170.64" cy="365.43" r="1.95" fill="#0a0a0a"/>
<circle cx="172.47" cy="365.80" r="1.95" fill="#0a0a0a"/>
<circle cx="174.31" cy="366.16" r="1.95" fill="#0a0a0a"/>
<circle cx="176.15" cy="366.52" r="1.95" fill="#0a0a0a"/>
<circle cx="177.99" cy="366.87" r="1.95" fill="#0a0a0a"/>
<circle cx="179.82" cy="367.22" r="1.95" fill="#0a0a0a"/>
<circle cx="181.66" cy="367.57" r="1.95" fill="#0a0a0a"/>
<circle cx="183.50" cy="367.91" r="1.95" fill="#0a0a0a"/>
<circle cx="185.34" cy="368.25" r="1.95" fill="#0a0a0a"/>
<circle cx="187.17" cy="368.53" r="1.95" fill="#0a0a0a"/>
<circle cx="189.01" cy="368.80" r="1.95" fill="#0a0a0a"/>
<circle cx="190.85" cy="369.08" r="1.95" fill="#0a0a0a"/>
<circle cx="192.69" cy="369.35" r="1.95" fill="#0a0a0a"/>
<circle cx="194.52" cy="369.63" r="1.95" fill="#0a0a0a"/>
<circle cx="196.36" cy="370.08" r="1.95" fill="#0a0a0a"/>
<circle cx="198.20" cy="370.60" r="1.95" fill="#0a0a0a"/>
<circle cx="87.2" cy="310.4" r="2.1" fill="#d3302a"/>
<circle cx="88.7" cy="309.6" r="2.1" fill="#d3302a"/>
<circle cx="90.2" cy="309.3" r="2.1" fill="#d3302a"/>
<circle cx="92.1" cy="308.4" r="2.1" fill="#d3302a"/>
<circle cx="93.9" cy="307.4" r="2.1" fill="#d3302a"/>
<circle cx="95.7" cy="291.1" r="2.1" fill="#d3302a"/>
<circle cx="97.6" cy="308.1" r="2.1" fill="#d3302a"/>
<circle cx="99.4" cy="328.9" r="2.1" fill="#d3302a"/>
<circle cx="101.0" cy="307.9" r="2.1" fill="#d3302a"/>
<circle cx="103.1" cy="304.0" r="2.1" fill="#d3302a"/>
<circle cx="104.7" cy="331.1" r="2.1" fill="#d3302a"/>
<circle cx="106.5" cy="303.7" r="2.1" fill="#d3302a"/>
<circle cx="108.4" cy="307.0" r="2.1" fill="#d3302a"/>
<circle cx="110.5" cy="300.4" r="2.1" fill="#d3302a"/>
<circle cx="112.1" cy="320.3" r="2.1" fill="#d3302a"/>
<circle cx="113.9" cy="295.1" r="2.1" fill="#d3302a"/>
<circle cx="115.8" cy="296.6" r="2.1" fill="#d3302a"/>
<circle cx="117.6" cy="290.7" r="2.1" fill="#d3302a"/>
<circle cx="119.4" cy="289.2" r="2.1" fill="#d3302a"/>
<circle cx="121.3" cy="310.4" r="2.1" fill="#d3302a"/>
<circle cx="123.2" cy="290.7" r="2.1" fill="#d3302a"/>
<circle cx="125.0" cy="297.0" r="2.1" fill="#d3302a"/>
<circle cx="126.8" cy="307.9" r="2.1" fill="#d3302a"/>
<circle cx="128.7" cy="312.6" r="2.1" fill="#d3302a"/>
<circle cx="130.6" cy="318.2" r="2.1" fill="#d3302a"/>
<circle cx="132.4" cy="314.4" r="2.1" fill="#d3302a"/>
<circle cx="134.2" cy="333.6" r="2.1" fill="#d3302a"/>
<circle cx="136.1" cy="292.1" r="2.1" fill="#d3302a"/>
<circle cx="137.9" cy="297.8" r="2.1" fill="#d3302a"/>
<circle cx="139.8" cy="303.0" r="2.1" fill="#d3302a"/>
<circle cx="141.5" cy="335.6" r="2.1" fill="#d3302a"/>
<circle cx="143.3" cy="338.1" r="2.1" fill="#d3302a"/>
<circle cx="145.2" cy="313.3" r="2.1" fill="#d3302a"/>
<circle cx="147.1" cy="325.2" r="2.1" fill="#d3302a"/>
<circle cx="148.9" cy="308.9" r="2.1" fill="#d3302a"/>
<circle cx="150.7" cy="309.3" r="2.1" fill="#d3302a"/>
<circle cx="152.6" cy="329.3" r="2.1" fill="#d3302a"/>
<circle cx="154.4" cy="325.2" r="2.1" fill="#d3302a"/>
<circle cx="156.3" cy="311.9" r="2.1" fill="#d3302a"/>
<circle cx="157.8" cy="358.9" r="2.1" fill="#d3302a"/>
<circle cx="159.7" cy="340.5" r="2.1" fill="#d3302a"/>
<circle cx="161.8" cy="329.2" r="2.1" fill="#d3302a"/>
<circle cx="163.7" cy="324.7" r="2.1" fill="#d3302a"/>
<circle cx="165.5" cy="326.4" r="2.1" fill="#d3302a"/>
<circle cx="167.1" cy="343.0" r="2.1" fill="#d3302a"/>
<circle cx="169.2" cy="339.6" r="2.1" fill="#d3302a"/>
<circle cx="170.8" cy="312.6" r="2.1" fill="#d3302a"/>
<circle cx="172.6" cy="360.4" r="2.1" fill="#d3302a"/>
<circle cx="174.4" cy="334.6" r="2.1" fill="#d3302a"/>
<circle cx="176.3" cy="308.4" r="2.1" fill="#d3302a"/>
<circle cx="178.2" cy="319.3" r="2.1" fill="#d3302a"/>
<circle cx="180.0" cy="330.2" r="2.1" fill="#d3302a"/>
<circle cx="181.9" cy="332.8" r="2.1" fill="#d3302a"/>
<circle cx="183.7" cy="343.6" r="2.1" fill="#d3302a"/>
<circle cx="185.5" cy="329.2" r="2.1" fill="#d3302a"/>
<circle cx="187.4" cy="333.0" r="2.1" fill="#d3302a"/>
<circle cx="189.2" cy="349.3" r="2.1" fill="#d3302a"/>
<circle cx="191.1" cy="325.5" r="2.1" fill="#d3302a"/>
<circle cx="192.9" cy="340.5" r="2.1" fill="#d3302a"/>
<circle cx="194.8" cy="347.0" r="2.1" fill="#d3302a"/>
<circle cx="196.6" cy="328.4" r="2.1" fill="#d3302a"/>
<circle cx="198.2" cy="349.6" r="2.1" fill="#d3302a"/>
<text x="96.10" y="376.60" font-size="12.0" text-anchor="start" fill="#1a1a1a" stroke="#1a1a1a" stroke-width="0.3" >n=61</text>
<line x1="211.50" y1="302.00" x2="211.50" y2="336.80" stroke="#e04848" stroke-width="1.05"/>
<circle cx="211.5" cy="319.4" r="2.1" fill="#d3302a"/>
<line x1="207.00" y1="348.50" x2="207.00" y2="368.70" stroke="#111" stroke-width="1.2"/>
<circle cx="207.0" cy="358.3" r="2.2" fill="#111"/>
<text x="233.80" y="257.50" font-size="17.4" text-anchor="start" fill="#111" stroke="#111" stroke-width="0.3" font-weight="bold" >f</text>
<line x1="290.20" y1="265.30" x2="290.20" y2="382.80" stroke="#3a3a3a" stroke-width="1.2"/>
<line x1="289.60" y1="382.20" x2="405.60" y2="382.20" stroke="#3a3a3a" stroke-width="1.2"/>
<line x1="409.00" y1="382.20" x2="417.80" y2="382.20" stroke="#3a3a3a" stroke-width="1.2"/>
<line x1="286.00" y1="382.20" x2="290.20" y2="382.20" stroke="#3a3a3a" stroke-width="1.1"/>
<text x="283.40" y="386.10" font-size="11" text-anchor="end" fill="#1a1a1a" stroke="#1a1a1a" stroke-width="0.3" >0</text>
<line x1="286.00" y1="363.80" x2="290.20" y2="363.80" stroke="#3a3a3a" stroke-width="1.1"/>
<text x="283.40" y="367.70" font-size="11" text-anchor="end" fill="#1a1a1a" stroke="#1a1a1a" stroke-width="0.3" >10</text>
<line x1="286.00" y1="345.40" x2="290.20" y2="345.40" stroke="#3a3a3a" stroke-width="1.1"/>
<text x="283.40" y="349.30" font-size="11" text-anchor="end" fill="#1a1a1a" stroke="#1a1a1a" stroke-width="0.3" >20</text>
<line x1="286.00" y1="327.00" x2="290.20" y2="327.00" stroke="#3a3a3a" stroke-width="1.1"/>
<text x="283.40" y="330.90" font-size="11" text-anchor="end" fill="#1a1a1a" stroke="#1a1a1a" stroke-width="0.3" >30</text>
<line x1="286.00" y1="308.60" x2="290.20" y2="308.60" stroke="#3a3a3a" stroke-width="1.1"/>
<text x="283.40" y="312.50" font-size="11" text-anchor="end" fill="#1a1a1a" stroke="#1a1a1a" stroke-width="0.3" >40</text>
<line x1="286.00" y1="290.20" x2="290.20" y2="290.20" stroke="#3a3a3a" stroke-width="1.1"/>
<text x="283.40" y="294.10" font-size="11" text-anchor="end" fill="#1a1a1a" stroke="#1a1a1a" stroke-width="0.3" >50</text>
<line x1="286.00" y1="271.80" x2="290.20" y2="271.80" stroke="#3a3a3a" stroke-width="1.1"/>
<text x="283.40" y="275.70" font-size="11" text-anchor="end" fill="#1a1a1a" stroke="#1a1a1a" stroke-width="0.3" >60</text>
<line x1="290.20" y1="382.20" x2="290.20" y2="386.20" stroke="#3a3a3a" stroke-width="1.1"/>
<line x1="322.60" y1="382.20" x2="322.60" y2="386.20" stroke="#3a3a3a" stroke-width="1.1"/>
<line x1="354.80" y1="382.20" x2="354.80" y2="386.20" stroke="#3a3a3a" stroke-width="1.1"/>
<line x1="387.20" y1="382.20" x2="387.20" y2="386.20" stroke="#3a3a3a" stroke-width="1.1"/>
<text x="310.0" y="265.6" font-size="12.1" fill="#1a1a1a" stroke="#1a1a1a" stroke-width="0.3">Clover/ShadowY</text>
<text transform="translate(263.90000000000003,325.5) rotate(-90)" x="0" y="0" font-size="12.85" text-anchor="middle" fill="#1a1a1a" stroke="#1a1a1a" stroke-width="0.3">% Binding fraction</text>
<text x="343.00" y="404.90" font-size="12.2" text-anchor="start" fill="#1a1a1a" stroke="#1a1a1a" stroke-width="0.3" >Cell #</text>
<circle cx="291.00" cy="332.60" r="1.95" fill="#0a0a0a"/>
<circle cx="292.63" cy="333.94" r="1.95" fill="#0a0a0a"/>
<circle cx="294.27" cy="337.11" r="1.95" fill="#0a0a0a"/>
<circle cx="295.90" cy="341.43" r="1.95" fill="#0a0a0a"/>
<circle cx="297.54" cy="344.23" r="1.95" fill="#0a0a0a"/>
<circle cx="299.17" cy="344.55" r="1.95" fill="#0a0a0a"/>
<circle cx="300.81" cy="344.86" r="1.95" fill="#0a0a0a"/>
<circle cx="302.44" cy="345.14" r="1.95" fill="#0a0a0a"/>
<circle cx="304.08" cy="345.37" r="1.95" fill="#0a0a0a"/>
<circle cx="305.71" cy="345.59" r="1.95" fill="#0a0a0a"/>
<circle cx="307.35" cy="346.19" r="1.95" fill="#0a0a0a"/>
<circle cx="308.98" cy="347.06" r="1.95" fill="#0a0a0a"/>
<circle cx="310.62" cy="349.12" r="1.95" fill="#0a0a0a"/>
<circle cx="312.25" cy="350.45" r="1.95" fill="#0a0a0a"/>
<circle cx="313.89" cy="351.46" r="1.95" fill="#0a0a0a"/>
<circle cx="315.52" cy="352.30" r="1.95" fill="#0a0a0a"/>
<circle cx="317.16" cy="353.02" r="1.95" fill="#0a0a0a"/>
<circle cx="318.79" cy="353.68" r="1.95" fill="#0a0a0a"/>
<circle cx="320.43" cy="354.09" r="1.95" fill="#0a0a0a"/>
<circle cx="322.06" cy="354.46" r="1.95" fill="#0a0a0a"/>
<circle cx="323.70" cy="354.83" r="1.95" fill="#0a0a0a"/>
<circle cx="325.33" cy="355.27" r="1.95" fill="#0a0a0a"/>
<circle cx="326.97" cy="355.72" r="1.95" fill="#0a0a0a"/>
<circle cx="328.60" cy="356.14" r="1.95" fill="#0a0a0a"/>
<circle cx="330.23" cy="356.51" r="1.95" fill="#0a0a0a"/>
<circle cx="331.87" cy="356.88" r="1.95" fill="#0a0a0a"/>
<circle cx="333.50" cy="357.20" r="1.95" fill="#0a0a0a"/>
<circle cx="335.14" cy="357.49" r="1.95" fill="#0a0a0a"/>
<circle cx="336.77" cy="357.78" r="1.95" fill="#0a0a0a"/>
<circle cx="338.41" cy="358.04" r="1.95" fill="#0a0a0a"/>
<circle cx="340.04" cy="358.30" r="1.95" fill="#0a0a0a"/>
<circle cx="341.68" cy="358.70" r="1.95" fill="#0a0a0a"/>
<circle cx="343.31" cy="359.59" r="1.95" fill="#0a0a0a"/>
<circle cx="344.95" cy="360.47" r="1.95" fill="#0a0a0a"/>
<circle cx="346.58" cy="360.64" r="1.95" fill="#0a0a0a"/>
<circle cx="348.22" cy="360.79" r="1.95" fill="#0a0a0a"/>
<circle cx="349.85" cy="360.93" r="1.95" fill="#0a0a0a"/>
<circle cx="351.49" cy="361.08" r="1.95" fill="#0a0a0a"/>
<circle cx="353.12" cy="362.18" r="1.95" fill="#0a0a0a"/>
<circle cx="354.76" cy="363.42" r="1.95" fill="#0a0a0a"/>
<circle cx="356.39" cy="363.69" r="1.95" fill="#0a0a0a"/>
<circle cx="358.03" cy="363.80" r="1.95" fill="#0a0a0a"/>
<circle cx="359.66" cy="363.91" r="1.95" fill="#0a0a0a"/>
<circle cx="361.30" cy="364.01" r="1.95" fill="#0a0a0a"/>
<circle cx="362.93" cy="364.12" r="1.95" fill="#0a0a0a"/>
<circle cx="364.57" cy="364.23" r="1.95" fill="#0a0a0a"/>
<circle cx="366.20" cy="364.33" r="1.95" fill="#0a0a0a"/>
<circle cx="367.83" cy="364.72" r="1.95" fill="#0a0a0a"/>
<circle cx="369.47" cy="365.53" r="1.95" fill="#0a0a0a"/>
<circle cx="371.10" cy="366.21" r="1.95" fill="#0a0a0a"/>
<circle cx="372.74" cy="366.57" r="1.95" fill="#0a0a0a"/>
<circle cx="374.37" cy="366.93" r="1.95" fill="#0a0a0a"/>
<circle cx="376.01" cy="367.29" r="1.95" fill="#0a0a0a"/>
<circle cx="377.64" cy="367.66" r="1.95" fill="#0a0a0a"/>
<circle cx="379.28" cy="368.03" r="1.95" fill="#0a0a0a"/>
<circle cx="380.91" cy="368.41" r="1.95" fill="#0a0a0a"/>
<circle cx="382.55" cy="368.79" r="1.95" fill="#0a0a0a"/>
<circle cx="384.18" cy="369.13" r="1.95" fill="#0a0a0a"/>
<circle cx="385.82" cy="369.32" r="1.95" fill="#0a0a0a"/>
<circle cx="387.45" cy="369.51" r="1.95" fill="#0a0a0a"/>
<circle cx="389.09" cy="369.70" r="1.95" fill="#0a0a0a"/>
<circle cx="390.72" cy="369.89" r="1.95" fill="#0a0a0a"/>
<circle cx="392.36" cy="370.10" r="1.95" fill="#0a0a0a"/>
<circle cx="393.99" cy="370.33" r="1.95" fill="#0a0a0a"/>
<circle cx="395.63" cy="370.57" r="1.95" fill="#0a0a0a"/>
<circle cx="397.26" cy="370.81" r="1.95" fill="#0a0a0a"/>
<circle cx="398.90" cy="371.05" r="1.95" fill="#0a0a0a"/>
<circle cx="400.53" cy="371.29" r="1.95" fill="#0a0a0a"/>
<circle cx="402.17" cy="371.54" r="1.95" fill="#0a0a0a"/>
<circle cx="403.80" cy="371.80" r="1.95" fill="#0a0a0a"/>
<circle cx="291.7" cy="314.4" r="2.1" fill="#d3302a"/>
<circle cx="293.6" cy="314.4" r="2.1" fill="#d3302a"/>
<circle cx="295.1" cy="319.0" r="2.1" fill="#d3302a"/>
<circle cx="296.9" cy="314.4" r="2.1" fill="#d3302a"/>
<circle cx="298.4" cy="333.3" r="2.1" fill="#d3302a"/>
<circle cx="299.9" cy="333.3" r="2.1" fill="#d3302a"/>
<circle cx="301.3" cy="322.5" r="2.1" fill="#d3302a"/>
<circle cx="302.8" cy="323.0" r="2.1" fill="#d3302a"/>
<circle cx="304.6" cy="301.8" r="2.1" fill="#d3302a"/>
<circle cx="306.4" cy="316.7" r="2.1" fill="#d3302a"/>
<circle cx="308.0" cy="325.5" r="2.1" fill="#d3302a"/>
<circle cx="309.5" cy="325.5" r="2.1" fill="#d3302a"/>
<circle cx="311.3" cy="325.2" r="2.1" fill="#d3302a"/>
<circle cx="312.9" cy="305.6" r="2.1" fill="#d3302a"/>
<circle cx="314.4" cy="325.2" r="2.1" fill="#d3302a"/>
<circle cx="316.1" cy="331.1" r="2.1" fill="#d3302a"/>
<circle cx="317.6" cy="331.1" r="2.1" fill="#d3302a"/>
<circle cx="319.4" cy="307.7" r="2.1" fill="#d3302a"/>
<circle cx="320.9" cy="330.4" r="2.1" fill="#d3302a"/>
<circle cx="322.8" cy="330.8" r="2.1" fill="#d3302a"/>
<circle cx="324.3" cy="331.9" r="2.1" fill="#d3302a"/>
<circle cx="326.1" cy="332.3" r="2.1" fill="#d3302a"/>
<circle cx="327.3" cy="307.1" r="2.1" fill="#d3302a"/>
<circle cx="329.2" cy="324.0" r="2.1" fill="#d3302a"/>
<circle cx="331.0" cy="314.4" r="2.1" fill="#d3302a"/>
<circle cx="332.4" cy="314.8" r="2.1" fill="#d3302a"/>
<circle cx="333.9" cy="324.4" r="2.1" fill="#d3302a"/>
<circle cx="335.4" cy="315.6" r="2.1" fill="#d3302a"/>
<circle cx="337.2" cy="315.6" r="2.1" fill="#d3302a"/>
<circle cx="338.8" cy="337.8" r="2.1" fill="#d3302a"/>
<circle cx="340.1" cy="321.5" r="2.1" fill="#d3302a"/>
<circle cx="342.1" cy="314.8" r="2.1" fill="#d3302a"/>
<circle cx="343.6" cy="314.8" r="2.1" fill="#d3302a"/>
<circle cx="345.5" cy="304.7" r="2.1" fill="#d3302a"/>
<circle cx="346.8" cy="357.6" r="2.1" fill="#d3302a"/>
<circle cx="347.3" cy="314.8" r="2.1" fill="#d3302a"/>
<circle cx="348.3" cy="315.4" r="2.1" fill="#d3302a"/>
<circle cx="350.2" cy="309.5" r="2.1" fill="#d3302a"/>
<circle cx="351.7" cy="315.0" r="2.1" fill="#d3302a"/>
<circle cx="353.6" cy="315.7" r="2.1" fill="#d3302a"/>
<circle cx="355.1" cy="317.2" r="2.1" fill="#d3302a"/>
<circle cx="353.4" cy="341.7" r="2.1" fill="#d3302a"/>
<circle cx="356.6" cy="321.7" r="2.1" fill="#d3302a"/>
<circle cx="358.3" cy="326.9" r="2.1" fill="#d3302a"/>
<circle cx="359.8" cy="336.5" r="2.1" fill="#d3302a"/>
<circle cx="361.6" cy="336.5" r="2.1" fill="#d3302a"/>
<circle cx="363.1" cy="315.0" r="2.1" fill="#d3302a"/>
<circle cx="365.0" cy="315.0" r="2.1" fill="#d3302a"/>
<circle cx="366.5" cy="309.8" r="2.1" fill="#d3302a"/>
<circle cx="368.0" cy="309.8" r="2.1" fill="#d3302a"/>
<circle cx="370.2" cy="349.1" r="2.1" fill="#d3302a"/>
<circle cx="371.7" cy="349.1" r="2.1" fill="#d3302a"/>
<circle cx="373.1" cy="338.7" r="2.1" fill="#d3302a"/>
<circle cx="374.6" cy="330.1" r="2.1" fill="#d3302a"/>
<circle cx="376.4" cy="330.1" r="2.1" fill="#d3302a"/>
<circle cx="377.9" cy="338.0" r="2.1" fill="#d3302a"/>
<circle cx="379.8" cy="338.0" r="2.1" fill="#d3302a"/>
<circle cx="381.3" cy="338.0" r="2.1" fill="#d3302a"/>
<circle cx="382.8" cy="329.4" r="2.1" fill="#d3302a"/>
<circle cx="384.7" cy="327.9" r="2.1" fill="#d3302a"/>
<circle cx="386.2" cy="326.9" r="2.1" fill="#d3302a"/>
<circle cx="387.7" cy="315.4" r="2.1" fill="#d3302a"/>
<circle cx="389.1" cy="333.8" r="2.1" fill="#d3302a"/>
<circle cx="390.9" cy="339.4" r="2.1" fill="#d3302a"/>
<circle cx="392.4" cy="344.6" r="2.1" fill="#d3302a"/>
<circle cx="394.3" cy="333.8" r="2.1" fill="#d3302a"/>
<circle cx="396.1" cy="333.8" r="2.1" fill="#d3302a"/>
<circle cx="397.6" cy="336.5" r="2.1" fill="#d3302a"/>
<circle cx="399.8" cy="335.7" r="2.1" fill="#d3302a"/>
<circle cx="401.7" cy="333.8" r="2.1" fill="#d3302a"/>
<circle cx="403.5" cy="333.2" r="2.1" fill="#d3302a"/>
<text x="301.10" y="376.60" font-size="12.0" text-anchor="start" fill="#1a1a1a" stroke="#1a1a1a" stroke-width="0.3" >n=70</text>
<line x1="415.20" y1="314.30" x2="415.20" y2="337.60" stroke="#e04848" stroke-width="1.05"/>
<circle cx="415.2" cy="325.9" r="2.1" fill="#d3302a"/>
<line x1="412.10" y1="350.60" x2="412.10" y2="368.70" stroke="#111" stroke-width="1.2"/>
<circle cx="412.1" cy="359.6" r="2.2" fill="#111"/>
<text x="436.20" y="258.00" font-size="17.4" text-anchor="start" fill="#111" stroke="#111" stroke-width="0.3" font-weight="bold" >g</text>
<line x1="498.20" y1="265.30" x2="498.20" y2="382.80" stroke="#3a3a3a" stroke-width="1.2"/>
<line x1="497.60" y1="382.20" x2="612.30" y2="382.20" stroke="#3a3a3a" stroke-width="1.2"/>
<line x1="615.40" y1="382.20" x2="626.10" y2="382.20" stroke="#3a3a3a" stroke-width="1.2"/>
<line x1="494.00" y1="382.20" x2="498.20" y2="382.20" stroke="#3a3a3a" stroke-width="1.1"/>
<text x="491.40" y="386.10" font-size="11" text-anchor="end" fill="#1a1a1a" stroke="#1a1a1a" stroke-width="0.3" >0</text>
<line x1="494.00" y1="363.80" x2="498.20" y2="363.80" stroke="#3a3a3a" stroke-width="1.1"/>
<text x="491.40" y="367.70" font-size="11" text-anchor="end" fill="#1a1a1a" stroke="#1a1a1a" stroke-width="0.3" >10</text>
<line x1="494.00" y1="345.40" x2="498.20" y2="345.40" stroke="#3a3a3a" stroke-width="1.1"/>
<text x="491.40" y="349.30" font-size="11" text-anchor="end" fill="#1a1a1a" stroke="#1a1a1a" stroke-width="0.3" >20</text>
<line x1="494.00" y1="327.00" x2="498.20" y2="327.00" stroke="#3a3a3a" stroke-width="1.1"/>
<text x="491.40" y="330.90" font-size="11" text-anchor="end" fill="#1a1a1a" stroke="#1a1a1a" stroke-width="0.3" >30</text>
<line x1="494.00" y1="308.60" x2="498.20" y2="308.60" stroke="#3a3a3a" stroke-width="1.1"/>
<text x="491.40" y="312.50" font-size="11" text-anchor="end" fill="#1a1a1a" stroke="#1a1a1a" stroke-width="0.3" >40</text>
<line x1="494.00" y1="290.20" x2="498.20" y2="290.20" stroke="#3a3a3a" stroke-width="1.1"/>
<text x="491.40" y="294.10" font-size="11" text-anchor="end" fill="#1a1a1a" stroke="#1a1a1a" stroke-width="0.3" >50</text>
<line x1="494.00" y1="271.80" x2="498.20" y2="271.80" stroke="#3a3a3a" stroke-width="1.1"/>
<text x="491.40" y="275.70" font-size="11" text-anchor="end" fill="#1a1a1a" stroke="#1a1a1a" stroke-width="0.3" >60</text>
<line x1="498.20" y1="382.20" x2="498.20" y2="386.20" stroke="#3a3a3a" stroke-width="1.1"/>
<line x1="534.60" y1="382.20" x2="534.60" y2="386.20" stroke="#3a3a3a" stroke-width="1.1"/>
<line x1="571.40" y1="382.20" x2="571.40" y2="386.20" stroke="#3a3a3a" stroke-width="1.1"/>
<line x1="608.30" y1="382.20" x2="608.30" y2="386.20" stroke="#3a3a3a" stroke-width="1.1"/>
<text x="519.4" y="265.2" font-size="12" fill="#1a1a1a" stroke="#1a1a1a" stroke-width="0.3">Clover<tspan font-size="8.2" dy="1.8">T153M/F223R</tspan><tspan dy="-1.8">/</tspan></text><text x="519.4" y="278.2" font-size="12" fill="#1a1a1a" stroke="#1a1a1a" stroke-width="0.3">ShadowY</text>
<text transform="translate(471.8,325.5) rotate(-90)" x="0" y="0" font-size="12.85" text-anchor="middle" fill="#1a1a1a" stroke="#1a1a1a" stroke-width="0.3">% Binding fraction</text>
<text x="549.20" y="404.90" font-size="12.2" text-anchor="start" fill="#1a1a1a" stroke="#1a1a1a" stroke-width="0.3" >Cell #</text>
<circle cx="500.20" cy="333.20" r="1.95" fill="#0a0a0a"/>
<circle cx="502.03" cy="341.76" r="1.95" fill="#0a0a0a"/>
<circle cx="503.87" cy="342.09" r="1.95" fill="#0a0a0a"/>
<circle cx="505.70" cy="342.92" r="1.95" fill="#0a0a0a"/>
<circle cx="507.54" cy="344.54" r="1.95" fill="#0a0a0a"/>
<circle cx="509.38" cy="346.60" r="1.95" fill="#0a0a0a"/>
<circle cx="511.21" cy="349.94" r="1.95" fill="#0a0a0a"/>
<circle cx="513.04" cy="351.21" r="1.95" fill="#0a0a0a"/>
<circle cx="514.88" cy="352.20" r="1.95" fill="#0a0a0a"/>
<circle cx="516.72" cy="352.82" r="1.95" fill="#0a0a0a"/>
<circle cx="518.55" cy="353.45" r="1.95" fill="#0a0a0a"/>
<circle cx="520.38" cy="353.92" r="1.95" fill="#0a0a0a"/>
<circle cx="522.22" cy="354.38" r="1.95" fill="#0a0a0a"/>
<circle cx="524.05" cy="354.84" r="1.95" fill="#0a0a0a"/>
<circle cx="525.89" cy="355.30" r="1.95" fill="#0a0a0a"/>
<circle cx="527.73" cy="355.91" r="1.95" fill="#0a0a0a"/>
<circle cx="529.56" cy="356.83" r="1.95" fill="#0a0a0a"/>
<circle cx="531.39" cy="357.75" r="1.95" fill="#0a0a0a"/>
<circle cx="533.23" cy="358.67" r="1.95" fill="#0a0a0a"/>
<circle cx="535.06" cy="359.04" r="1.95" fill="#0a0a0a"/>
<circle cx="536.90" cy="359.39" r="1.95" fill="#0a0a0a"/>
<circle cx="538.74" cy="359.75" r="1.95" fill="#0a0a0a"/>
<circle cx="540.57" cy="360.10" r="1.95" fill="#0a0a0a"/>
<circle cx="542.40" cy="360.33" r="1.95" fill="#0a0a0a"/>
<circle cx="544.24" cy="360.52" r="1.95" fill="#0a0a0a"/>
<circle cx="546.07" cy="360.71" r="1.95" fill="#0a0a0a"/>
<circle cx="547.91" cy="360.90" r="1.95" fill="#0a0a0a"/>
<circle cx="549.75" cy="361.12" r="1.95" fill="#0a0a0a"/>
<circle cx="551.58" cy="361.38" r="1.95" fill="#0a0a0a"/>
<circle cx="553.41" cy="361.64" r="1.95" fill="#0a0a0a"/>
<circle cx="555.25" cy="361.90" r="1.95" fill="#0a0a0a"/>
<circle cx="557.08" cy="362.22" r="1.95" fill="#0a0a0a"/>
<circle cx="558.92" cy="362.82" r="1.95" fill="#0a0a0a"/>
<circle cx="560.75" cy="363.41" r="1.95" fill="#0a0a0a"/>
<circle cx="562.59" cy="364.00" r="1.95" fill="#0a0a0a"/>
<circle cx="564.42" cy="364.28" r="1.95" fill="#0a0a0a"/>
<circle cx="566.26" cy="364.50" r="1.95" fill="#0a0a0a"/>
<circle cx="568.10" cy="364.71" r="1.95" fill="#0a0a0a"/>
<circle cx="569.93" cy="364.93" r="1.95" fill="#0a0a0a"/>
<circle cx="571.76" cy="365.15" r="1.95" fill="#0a0a0a"/>
<circle cx="573.60" cy="365.47" r="1.95" fill="#0a0a0a"/>
<circle cx="575.43" cy="365.82" r="1.95" fill="#0a0a0a"/>
<circle cx="577.27" cy="366.17" r="1.95" fill="#0a0a0a"/>
<circle cx="579.11" cy="366.53" r="1.95" fill="#0a0a0a"/>
<circle cx="580.94" cy="366.96" r="1.95" fill="#0a0a0a"/>
<circle cx="582.77" cy="367.47" r="1.95" fill="#0a0a0a"/>
<circle cx="584.61" cy="367.98" r="1.95" fill="#0a0a0a"/>
<circle cx="586.44" cy="368.18" r="1.95" fill="#0a0a0a"/>
<circle cx="588.28" cy="368.37" r="1.95" fill="#0a0a0a"/>
<circle cx="590.12" cy="368.56" r="1.95" fill="#0a0a0a"/>
<circle cx="591.95" cy="368.75" r="1.95" fill="#0a0a0a"/>
<circle cx="593.78" cy="369.00" r="1.95" fill="#0a0a0a"/>
<circle cx="595.62" cy="369.25" r="1.95" fill="#0a0a0a"/>
<circle cx="597.45" cy="369.51" r="1.95" fill="#0a0a0a"/>
<circle cx="599.29" cy="369.77" r="1.95" fill="#0a0a0a"/>
<circle cx="601.12" cy="370.04" r="1.95" fill="#0a0a0a"/>
<circle cx="602.96" cy="370.31" r="1.95" fill="#0a0a0a"/>
<circle cx="604.79" cy="370.58" r="1.95" fill="#0a0a0a"/>
<circle cx="606.63" cy="370.66" r="1.95" fill="#0a0a0a"/>
<circle cx="608.46" cy="370.73" r="1.95" fill="#0a0a0a"/>
<circle cx="610.30" cy="370.80" r="1.95" fill="#0a0a0a"/>
<circle cx="500.2" cy="301.2" r="2.1" fill="#d3302a"/>
<circle cx="501.7" cy="312.5" r="2.1" fill="#d3302a"/>
<circle cx="503.6" cy="315.0" r="2.1" fill="#d3302a"/>
<circle cx="505.4" cy="318.0" r="2.1" fill="#d3302a"/>
<circle cx="507.6" cy="309.8" r="2.1" fill="#d3302a"/>
<circle cx="509.4" cy="318.3" r="2.1" fill="#d3302a"/>
<circle cx="511.0" cy="305.7" r="2.1" fill="#d3302a"/>
<circle cx="512.8" cy="302.1" r="2.1" fill="#d3302a"/>
<circle cx="514.7" cy="316.2" r="2.1" fill="#d3302a"/>
<circle cx="516.8" cy="302.9" r="2.1" fill="#d3302a"/>
<circle cx="518.4" cy="327.9" r="2.1" fill="#d3302a"/>
<circle cx="520.2" cy="320.9" r="2.1" fill="#d3302a"/>
<circle cx="522.1" cy="329.8" r="2.1" fill="#d3302a"/>
<circle cx="524.2" cy="320.9" r="2.1" fill="#d3302a"/>
<circle cx="525.8" cy="314.7" r="2.1" fill="#d3302a"/>
<circle cx="527.6" cy="326.9" r="2.1" fill="#d3302a"/>
<circle cx="529.5" cy="333.2" r="2.1" fill="#d3302a"/>
<circle cx="531.3" cy="297.2" r="2.1" fill="#d3302a"/>
<circle cx="533.2" cy="321.4" r="2.1" fill="#d3302a"/>
<circle cx="535.0" cy="325.8" r="2.1" fill="#d3302a"/>
<circle cx="536.9" cy="331.0" r="2.1" fill="#d3302a"/>
<circle cx="538.4" cy="350.6" r="2.1" fill="#d3302a"/>
<circle cx="540.3" cy="303.4" r="2.1" fill="#d3302a"/>
<circle cx="542.1" cy="323.1" r="2.1" fill="#d3302a"/>
<circle cx="544.0" cy="323.9" r="2.1" fill="#d3302a"/>
<circle cx="545.8" cy="331.6" r="2.1" fill="#d3302a"/>
<circle cx="547.6" cy="313.5" r="2.1" fill="#d3302a"/>
<circle cx="549.5" cy="316.9" r="2.1" fill="#d3302a"/>
<circle cx="551.3" cy="329.5" r="2.1" fill="#d3302a"/>
<circle cx="553.1" cy="322.4" r="2.1" fill="#d3302a"/>
<circle cx="555.2" cy="328.3" r="2.1" fill="#d3302a"/>
<circle cx="557.1" cy="327.2" r="2.1" fill="#d3302a"/>
<circle cx="558.9" cy="316.6" r="2.1" fill="#d3302a"/>
<circle cx="560.7" cy="328.3" r="2.1" fill="#d3302a"/>
<circle cx="562.6" cy="332.4" r="2.1" fill="#d3302a"/>
<circle cx="564.4" cy="326.5" r="2.1" fill="#d3302a"/>
<circle cx="566.0" cy="314.6" r="2.1" fill="#d3302a"/>
<circle cx="567.9" cy="351.7" r="2.1" fill="#d3302a"/>
<circle cx="569.7" cy="310.5" r="2.1" fill="#d3302a"/>
<circle cx="571.8" cy="332.4" r="2.1" fill="#d3302a"/>
<circle cx="573.4" cy="330.2" r="2.1" fill="#d3302a"/>
<circle cx="575.2" cy="309.9" r="2.1" fill="#d3302a"/>
<circle cx="577.0" cy="314.6" r="2.1" fill="#d3302a"/>
<circle cx="578.9" cy="337.1" r="2.1" fill="#d3302a"/>
<circle cx="580.8" cy="309.0" r="2.1" fill="#d3302a"/>
<circle cx="582.6" cy="330.2" r="2.1" fill="#d3302a"/>
<circle cx="584.4" cy="317.3" r="2.1" fill="#d3302a"/>
<circle cx="586.3" cy="308.0" r="2.1" fill="#d3302a"/>
<circle cx="588.2" cy="312.4" r="2.1" fill="#d3302a"/>
<circle cx="590.0" cy="312.1" r="2.1" fill="#d3302a"/>
<circle cx="591.9" cy="328.3" r="2.1" fill="#d3302a"/>
<circle cx="593.7" cy="340.1" r="2.1" fill="#d3302a"/>
<circle cx="595.5" cy="332.7" r="2.1" fill="#d3302a"/>
<circle cx="597.4" cy="316.1" r="2.1" fill="#d3302a"/>
<circle cx="599.3" cy="336.6" r="2.1" fill="#d3302a"/>
<circle cx="601.1" cy="335.7" r="2.1" fill="#d3302a"/>
<circle cx="602.9" cy="330.2" r="2.1" fill="#d3302a"/>
<circle cx="604.8" cy="310.2" r="2.1" fill="#d3302a"/>
<circle cx="606.3" cy="334.6" r="2.1" fill="#d3302a"/>
<circle cx="608.2" cy="329.1" r="2.1" fill="#d3302a"/>
<circle cx="610.1" cy="353.9" r="2.1" fill="#d3302a"/>
<text x="508.00" y="376.60" font-size="12.0" text-anchor="start" fill="#1a1a1a" stroke="#1a1a1a" stroke-width="0.3" >n=61</text>
<line x1="622.80" y1="310.60" x2="622.80" y2="334.60" stroke="#e04848" stroke-width="1.05"/>
<circle cx="622.8" cy="322.8" r="2.1" fill="#d3302a"/>
<line x1="619.00" y1="352.80" x2="619.00" y2="368.30" stroke="#111" stroke-width="1.2"/>
<circle cx="619.0" cy="360.6" r="2.2" fill="#111"/>
</svg></body></html>
